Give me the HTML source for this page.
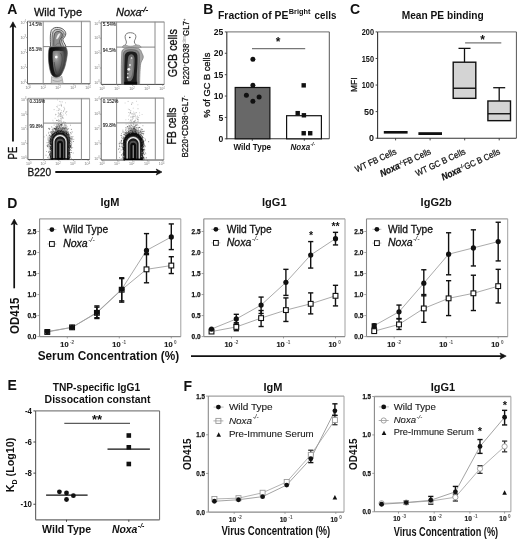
<!DOCTYPE html>
<html><head><meta charset="utf-8"><style>
html,body{margin:0;padding:0;background:#fff;}
svg{display:block;font-family:"Liberation Sans", sans-serif;filter:blur(0.3px);}
</style></head><body>
<svg width="520" height="540" viewBox="0 0 520 540">
<rect width="520" height="540" fill="#fff"/>
<text x="7.20" y="13.70" font-size="14" font-weight="bold" font-style="normal" text-anchor="start" fill="#111" >A</text>
<text x="203.30" y="14.20" font-size="14" font-weight="bold" font-style="normal" text-anchor="start" fill="#111" >B</text>
<text x="349.90" y="14.00" font-size="14" font-weight="bold" font-style="normal" text-anchor="start" fill="#111" >C</text>
<text x="7.30" y="207.50" font-size="14" font-weight="bold" font-style="normal" text-anchor="start" fill="#111" >D</text>
<text x="7.40" y="390.40" font-size="14" font-weight="bold" font-style="normal" text-anchor="start" fill="#111" >E</text>
<text x="183.40" y="390.50" font-size="14" font-weight="bold" font-style="normal" text-anchor="start" fill="#111" >F</text>
<text x="34.00" y="16.30" font-size="11" font-weight="normal" font-style="normal" text-anchor="start" fill="#111" stroke="#111" stroke-width="0.3" textLength="48" lengthAdjust="spacingAndGlyphs" >Wild Type</text>
<text x="116.00" y="16.40" font-size="11" font-weight="normal" font-style="italic" text-anchor="start" fill="#111" stroke="#111" stroke-width="0.3" >Noxa</text>
<text x="140.90" y="12.20" font-size="7.6" font-weight="normal" font-style="italic" text-anchor="start" fill="#111" stroke="#111" stroke-width="0.4" >-/-</text>
<line x1="13.00" y1="141.50" x2="12.95" y2="26.10" stroke="#111" stroke-width="1.8" />
<path d="M12.95,21.80 L15.95,27.40 L12.95,26.10 L9.95,27.40 Z" fill="#111" stroke="#111" stroke-width="0.6" stroke-linejoin="round"/>
<text x="17.20" y="159.40" font-size="12" font-weight="normal" font-style="normal" text-anchor="start" fill="#111" stroke="#111" stroke-width="0.3" textLength="12.7" lengthAdjust="spacingAndGlyphs" transform="rotate(-90 17.20 159.40)" >PE</text>
<text x="27.50" y="176.40" font-size="11" font-weight="normal" font-style="normal" text-anchor="start" fill="#111" stroke="#111" stroke-width="0.3" textLength="23.6" lengthAdjust="spacingAndGlyphs" >B220</text>
<line x1="55.30" y1="172.00" x2="157.60" y2="172.00" stroke="#111" stroke-width="1.9" />
<path d="M162.00,172.00 L156.20,175.00 L157.60,172.00 L156.20,169.00 Z" fill="#111" stroke="#111" stroke-width="0.6" stroke-linejoin="round"/>
<text x="176.80" y="77.20" font-size="13" font-weight="normal" font-style="normal" text-anchor="start" fill="#111" stroke="#111" stroke-width="0.3" textLength="48" lengthAdjust="spacingAndGlyphs" transform="rotate(-90 176.80 77.20)" >GCB cells</text>
<text x="176.00" y="144.40" font-size="13" font-weight="normal" font-style="normal" text-anchor="start" fill="#111" stroke="#111" stroke-width="0.3" textLength="36.8" lengthAdjust="spacingAndGlyphs" transform="rotate(-90 176.00 144.40)" >FB cells</text>
<text x="189.20" y="84.80" font-size="8.9" fill="#111" stroke="#111" stroke-width="0.25" transform="rotate(-90 189.20 84.80)" textLength="66.5" lengthAdjust="spacingAndGlyphs"><tspan dy="0">B220</tspan><tspan font-size="5.5" dy="-2.8" fill="#111" stroke="none">+</tspan><tspan dy="2.8">CD38</tspan><tspan font-size="5.5" dy="-2.8" fill="#999" stroke="none">dim</tspan><tspan dy="2.8">GL7</tspan><tspan font-size="5.5" dy="-2.8" fill="#111" stroke="none">+</tspan></text>
<text x="188.40" y="157.60" font-size="8.4" fill="#111" stroke="#111" stroke-width="0.25" transform="rotate(-90 188.40 157.60)" textLength="62" lengthAdjust="spacingAndGlyphs"><tspan dy="0">B220</tspan><tspan font-size="5.5" dy="-2.8" fill="#111" stroke="none">+</tspan><tspan dy="2.8">CD38</tspan><tspan font-size="5.5" dy="-2.8" fill="#111" stroke="none">+</tspan><tspan dy="2.8">GL7</tspan><tspan font-size="5.5" dy="-2.8" fill="#111" stroke="none">-</tspan></text>
<rect x="27.50" y="20.60" width="62.70" height="1.60" fill="#a8a8a8" stroke="none" stroke-width="1.0" />
<line x1="27.50" y1="21.20" x2="27.50" y2="83.80" stroke="#555" stroke-width="0.9" />
<line x1="90.20" y1="21.20" x2="90.20" y2="83.80" stroke="#888" stroke-width="0.8" />
<line x1="27.50" y1="83.80" x2="90.20" y2="83.80" stroke="#444" stroke-width="1.0" />
<line x1="43.20" y1="21.20" x2="43.20" y2="83.80" stroke="#8a8a8a" stroke-width="1.0" />
<line x1="81.40" y1="21.20" x2="81.40" y2="83.80" stroke="#8a8a8a" stroke-width="1.0" />
<line x1="43.20" y1="46.60" x2="81.40" y2="46.60" stroke="#777" stroke-width="0.9" />
<text x="29.10" y="25.80" font-size="4.6" font-weight="normal" font-style="normal" text-anchor="start" fill="#222" stroke="#222" stroke-width="0.1" >14.5%</text>
<text x="29.10" y="51.00" font-size="4.6" font-weight="normal" font-style="normal" text-anchor="start" fill="#222" stroke="#222" stroke-width="0.1" >85.3%</text>
<line x1="26.00" y1="82.30" x2="27.50" y2="82.30" stroke="#777" stroke-width="0.6" />
<text x="24.50" y="83.50" font-size="3.6" font-weight="normal" font-style="normal" text-anchor="end" fill="#777" >10</text>
<text x="24.50" y="81.70" font-size="2.6" font-weight="normal" font-style="normal" text-anchor="start" fill="#777" >0</text>
<line x1="26.00" y1="67.40" x2="27.50" y2="67.40" stroke="#777" stroke-width="0.6" />
<text x="24.50" y="68.60" font-size="3.6" font-weight="normal" font-style="normal" text-anchor="end" fill="#777" >10</text>
<text x="24.50" y="66.80" font-size="2.6" font-weight="normal" font-style="normal" text-anchor="start" fill="#777" >1</text>
<line x1="26.00" y1="52.50" x2="27.50" y2="52.50" stroke="#777" stroke-width="0.6" />
<text x="24.50" y="53.70" font-size="3.6" font-weight="normal" font-style="normal" text-anchor="end" fill="#777" >10</text>
<text x="24.50" y="51.90" font-size="2.6" font-weight="normal" font-style="normal" text-anchor="start" fill="#777" >2</text>
<line x1="26.00" y1="37.60" x2="27.50" y2="37.60" stroke="#777" stroke-width="0.6" />
<text x="24.50" y="38.80" font-size="3.6" font-weight="normal" font-style="normal" text-anchor="end" fill="#777" >10</text>
<text x="24.50" y="37.00" font-size="2.6" font-weight="normal" font-style="normal" text-anchor="start" fill="#777" >3</text>
<line x1="26.00" y1="22.70" x2="27.50" y2="22.70" stroke="#777" stroke-width="0.6" />
<text x="24.50" y="23.90" font-size="3.6" font-weight="normal" font-style="normal" text-anchor="end" fill="#777" >10</text>
<text x="24.50" y="22.10" font-size="2.6" font-weight="normal" font-style="normal" text-anchor="start" fill="#777" >4</text>
<line x1="29.00" y1="83.80" x2="29.00" y2="85.30" stroke="#777" stroke-width="0.6" />
<text x="27.50" y="89.20" font-size="3.6" font-weight="normal" font-style="normal" text-anchor="middle" fill="#777" >10</text>
<text x="29.60" y="88.00" font-size="2.6" font-weight="normal" font-style="normal" text-anchor="start" fill="#777" >0</text>
<line x1="43.92" y1="83.80" x2="43.92" y2="85.30" stroke="#777" stroke-width="0.6" />
<text x="42.42" y="89.20" font-size="3.6" font-weight="normal" font-style="normal" text-anchor="middle" fill="#777" >10</text>
<text x="44.52" y="88.00" font-size="2.6" font-weight="normal" font-style="normal" text-anchor="start" fill="#777" >1</text>
<line x1="58.85" y1="83.80" x2="58.85" y2="85.30" stroke="#777" stroke-width="0.6" />
<text x="57.35" y="89.20" font-size="3.6" font-weight="normal" font-style="normal" text-anchor="middle" fill="#777" >10</text>
<text x="59.45" y="88.00" font-size="2.6" font-weight="normal" font-style="normal" text-anchor="start" fill="#777" >2</text>
<line x1="73.78" y1="83.80" x2="73.78" y2="85.30" stroke="#777" stroke-width="0.6" />
<text x="72.28" y="89.20" font-size="3.6" font-weight="normal" font-style="normal" text-anchor="middle" fill="#777" >10</text>
<text x="74.38" y="88.00" font-size="2.6" font-weight="normal" font-style="normal" text-anchor="start" fill="#777" >3</text>
<line x1="88.70" y1="83.80" x2="88.70" y2="85.30" stroke="#777" stroke-width="0.6" />
<text x="87.20" y="89.20" font-size="3.6" font-weight="normal" font-style="normal" text-anchor="middle" fill="#777" >10</text>
<text x="89.30" y="88.00" font-size="2.6" font-weight="normal" font-style="normal" text-anchor="start" fill="#777" >4</text>
<rect x="101.20" y="21.20" width="63.00" height="1.60" fill="#a8a8a8" stroke="none" stroke-width="1.0" />
<line x1="101.20" y1="21.80" x2="101.20" y2="84.40" stroke="#555" stroke-width="0.9" />
<line x1="164.20" y1="21.80" x2="164.20" y2="84.40" stroke="#888" stroke-width="0.8" />
<line x1="101.20" y1="84.40" x2="164.20" y2="84.40" stroke="#444" stroke-width="1.0" />
<line x1="116.60" y1="21.80" x2="116.60" y2="84.40" stroke="#8a8a8a" stroke-width="1.0" />
<line x1="155.00" y1="21.80" x2="155.00" y2="84.40" stroke="#8a8a8a" stroke-width="1.0" />
<line x1="116.60" y1="47.10" x2="155.00" y2="47.10" stroke="#777" stroke-width="0.9" />
<text x="102.80" y="26.40" font-size="4.6" font-weight="normal" font-style="normal" text-anchor="start" fill="#222" stroke="#222" stroke-width="0.1" >5.54%</text>
<text x="102.80" y="51.50" font-size="4.6" font-weight="normal" font-style="normal" text-anchor="start" fill="#222" stroke="#222" stroke-width="0.1" >94.5%</text>
<line x1="99.70" y1="82.90" x2="101.20" y2="82.90" stroke="#777" stroke-width="0.6" />
<text x="98.20" y="84.10" font-size="3.6" font-weight="normal" font-style="normal" text-anchor="end" fill="#777" >10</text>
<text x="98.20" y="82.30" font-size="2.6" font-weight="normal" font-style="normal" text-anchor="start" fill="#777" >0</text>
<line x1="99.70" y1="68.00" x2="101.20" y2="68.00" stroke="#777" stroke-width="0.6" />
<text x="98.20" y="69.20" font-size="3.6" font-weight="normal" font-style="normal" text-anchor="end" fill="#777" >10</text>
<text x="98.20" y="67.40" font-size="2.6" font-weight="normal" font-style="normal" text-anchor="start" fill="#777" >1</text>
<line x1="99.70" y1="53.10" x2="101.20" y2="53.10" stroke="#777" stroke-width="0.6" />
<text x="98.20" y="54.30" font-size="3.6" font-weight="normal" font-style="normal" text-anchor="end" fill="#777" >10</text>
<text x="98.20" y="52.50" font-size="2.6" font-weight="normal" font-style="normal" text-anchor="start" fill="#777" >2</text>
<line x1="99.70" y1="38.20" x2="101.20" y2="38.20" stroke="#777" stroke-width="0.6" />
<text x="98.20" y="39.40" font-size="3.6" font-weight="normal" font-style="normal" text-anchor="end" fill="#777" >10</text>
<text x="98.20" y="37.60" font-size="2.6" font-weight="normal" font-style="normal" text-anchor="start" fill="#777" >3</text>
<line x1="99.70" y1="23.30" x2="101.20" y2="23.30" stroke="#777" stroke-width="0.6" />
<text x="98.20" y="24.50" font-size="3.6" font-weight="normal" font-style="normal" text-anchor="end" fill="#777" >10</text>
<text x="98.20" y="22.70" font-size="2.6" font-weight="normal" font-style="normal" text-anchor="start" fill="#777" >4</text>
<line x1="102.70" y1="84.40" x2="102.70" y2="85.90" stroke="#777" stroke-width="0.6" />
<text x="101.20" y="89.80" font-size="3.6" font-weight="normal" font-style="normal" text-anchor="middle" fill="#777" >10</text>
<text x="103.30" y="88.60" font-size="2.6" font-weight="normal" font-style="normal" text-anchor="start" fill="#777" >0</text>
<line x1="117.70" y1="84.40" x2="117.70" y2="85.90" stroke="#777" stroke-width="0.6" />
<text x="116.20" y="89.80" font-size="3.6" font-weight="normal" font-style="normal" text-anchor="middle" fill="#777" >10</text>
<text x="118.30" y="88.60" font-size="2.6" font-weight="normal" font-style="normal" text-anchor="start" fill="#777" >1</text>
<line x1="132.70" y1="84.40" x2="132.70" y2="85.90" stroke="#777" stroke-width="0.6" />
<text x="131.20" y="89.80" font-size="3.6" font-weight="normal" font-style="normal" text-anchor="middle" fill="#777" >10</text>
<text x="133.30" y="88.60" font-size="2.6" font-weight="normal" font-style="normal" text-anchor="start" fill="#777" >2</text>
<line x1="147.70" y1="84.40" x2="147.70" y2="85.90" stroke="#777" stroke-width="0.6" />
<text x="146.20" y="89.80" font-size="3.6" font-weight="normal" font-style="normal" text-anchor="middle" fill="#777" >10</text>
<text x="148.30" y="88.60" font-size="2.6" font-weight="normal" font-style="normal" text-anchor="start" fill="#777" >3</text>
<line x1="162.70" y1="84.40" x2="162.70" y2="85.90" stroke="#777" stroke-width="0.6" />
<text x="161.20" y="89.80" font-size="3.6" font-weight="normal" font-style="normal" text-anchor="middle" fill="#777" >10</text>
<text x="163.30" y="88.60" font-size="2.6" font-weight="normal" font-style="normal" text-anchor="start" fill="#777" >4</text>
<rect x="27.90" y="97.80" width="61.70" height="1.60" fill="#a8a8a8" stroke="none" stroke-width="1.0" />
<line x1="27.90" y1="98.40" x2="27.90" y2="159.60" stroke="#555" stroke-width="0.9" />
<line x1="89.60" y1="98.40" x2="89.60" y2="159.60" stroke="#888" stroke-width="0.8" />
<line x1="27.90" y1="159.60" x2="89.60" y2="159.60" stroke="#444" stroke-width="1.0" />
<line x1="43.40" y1="98.40" x2="43.40" y2="159.60" stroke="#8a8a8a" stroke-width="1.0" />
<line x1="81.40" y1="98.40" x2="81.40" y2="159.60" stroke="#8a8a8a" stroke-width="1.0" />
<line x1="43.40" y1="123.10" x2="81.40" y2="123.10" stroke="#777" stroke-width="0.9" />
<text x="29.50" y="103.00" font-size="4.6" font-weight="normal" font-style="normal" text-anchor="start" fill="#222" stroke="#222" stroke-width="0.1" >0.316%</text>
<text x="29.50" y="127.50" font-size="4.6" font-weight="normal" font-style="normal" text-anchor="start" fill="#222" stroke="#222" stroke-width="0.1" >99.8%</text>
<line x1="26.40" y1="158.10" x2="27.90" y2="158.10" stroke="#777" stroke-width="0.6" />
<text x="24.90" y="159.30" font-size="3.6" font-weight="normal" font-style="normal" text-anchor="end" fill="#777" >10</text>
<text x="24.90" y="157.50" font-size="2.6" font-weight="normal" font-style="normal" text-anchor="start" fill="#777" >0</text>
<line x1="26.40" y1="143.55" x2="27.90" y2="143.55" stroke="#777" stroke-width="0.6" />
<text x="24.90" y="144.75" font-size="3.6" font-weight="normal" font-style="normal" text-anchor="end" fill="#777" >10</text>
<text x="24.90" y="142.95" font-size="2.6" font-weight="normal" font-style="normal" text-anchor="start" fill="#777" >1</text>
<line x1="26.40" y1="129.00" x2="27.90" y2="129.00" stroke="#777" stroke-width="0.6" />
<text x="24.90" y="130.20" font-size="3.6" font-weight="normal" font-style="normal" text-anchor="end" fill="#777" >10</text>
<text x="24.90" y="128.40" font-size="2.6" font-weight="normal" font-style="normal" text-anchor="start" fill="#777" >2</text>
<line x1="26.40" y1="114.45" x2="27.90" y2="114.45" stroke="#777" stroke-width="0.6" />
<text x="24.90" y="115.65" font-size="3.6" font-weight="normal" font-style="normal" text-anchor="end" fill="#777" >10</text>
<text x="24.90" y="113.85" font-size="2.6" font-weight="normal" font-style="normal" text-anchor="start" fill="#777" >3</text>
<line x1="26.40" y1="99.90" x2="27.90" y2="99.90" stroke="#777" stroke-width="0.6" />
<text x="24.90" y="101.10" font-size="3.6" font-weight="normal" font-style="normal" text-anchor="end" fill="#777" >10</text>
<text x="24.90" y="99.30" font-size="2.6" font-weight="normal" font-style="normal" text-anchor="start" fill="#777" >4</text>
<line x1="29.40" y1="159.60" x2="29.40" y2="161.10" stroke="#777" stroke-width="0.6" />
<text x="27.90" y="165.00" font-size="3.6" font-weight="normal" font-style="normal" text-anchor="middle" fill="#777" >10</text>
<text x="30.00" y="163.80" font-size="2.6" font-weight="normal" font-style="normal" text-anchor="start" fill="#777" >0</text>
<line x1="44.07" y1="159.60" x2="44.07" y2="161.10" stroke="#777" stroke-width="0.6" />
<text x="42.57" y="165.00" font-size="3.6" font-weight="normal" font-style="normal" text-anchor="middle" fill="#777" >10</text>
<text x="44.67" y="163.80" font-size="2.6" font-weight="normal" font-style="normal" text-anchor="start" fill="#777" >1</text>
<line x1="58.75" y1="159.60" x2="58.75" y2="161.10" stroke="#777" stroke-width="0.6" />
<text x="57.25" y="165.00" font-size="3.6" font-weight="normal" font-style="normal" text-anchor="middle" fill="#777" >10</text>
<text x="59.35" y="163.80" font-size="2.6" font-weight="normal" font-style="normal" text-anchor="start" fill="#777" >2</text>
<line x1="73.42" y1="159.60" x2="73.42" y2="161.10" stroke="#777" stroke-width="0.6" />
<text x="71.92" y="165.00" font-size="3.6" font-weight="normal" font-style="normal" text-anchor="middle" fill="#777" >10</text>
<text x="74.02" y="163.80" font-size="2.6" font-weight="normal" font-style="normal" text-anchor="start" fill="#777" >3</text>
<line x1="88.10" y1="159.60" x2="88.10" y2="161.10" stroke="#777" stroke-width="0.6" />
<text x="86.60" y="165.00" font-size="3.6" font-weight="normal" font-style="normal" text-anchor="middle" fill="#777" >10</text>
<text x="88.70" y="163.80" font-size="2.6" font-weight="normal" font-style="normal" text-anchor="start" fill="#777" >4</text>
<rect x="101.20" y="97.30" width="62.60" height="1.60" fill="#a8a8a8" stroke="none" stroke-width="1.0" />
<line x1="101.20" y1="97.90" x2="101.20" y2="160.00" stroke="#555" stroke-width="0.9" />
<line x1="163.80" y1="97.90" x2="163.80" y2="160.00" stroke="#888" stroke-width="0.8" />
<line x1="101.20" y1="160.00" x2="163.80" y2="160.00" stroke="#444" stroke-width="1.0" />
<line x1="116.60" y1="97.90" x2="116.60" y2="160.00" stroke="#8a8a8a" stroke-width="1.0" />
<line x1="155.30" y1="97.90" x2="155.30" y2="160.00" stroke="#8a8a8a" stroke-width="1.0" />
<line x1="116.60" y1="122.90" x2="155.30" y2="122.90" stroke="#777" stroke-width="0.9" />
<text x="102.80" y="102.50" font-size="4.6" font-weight="normal" font-style="normal" text-anchor="start" fill="#222" stroke="#222" stroke-width="0.1" >0.152%</text>
<text x="102.80" y="127.30" font-size="4.6" font-weight="normal" font-style="normal" text-anchor="start" fill="#222" stroke="#222" stroke-width="0.1" >99.8%</text>
<line x1="99.70" y1="158.50" x2="101.20" y2="158.50" stroke="#777" stroke-width="0.6" />
<text x="98.20" y="159.70" font-size="3.6" font-weight="normal" font-style="normal" text-anchor="end" fill="#777" >10</text>
<text x="98.20" y="157.90" font-size="2.6" font-weight="normal" font-style="normal" text-anchor="start" fill="#777" >0</text>
<line x1="99.70" y1="143.72" x2="101.20" y2="143.72" stroke="#777" stroke-width="0.6" />
<text x="98.20" y="144.92" font-size="3.6" font-weight="normal" font-style="normal" text-anchor="end" fill="#777" >10</text>
<text x="98.20" y="143.12" font-size="2.6" font-weight="normal" font-style="normal" text-anchor="start" fill="#777" >1</text>
<line x1="99.70" y1="128.95" x2="101.20" y2="128.95" stroke="#777" stroke-width="0.6" />
<text x="98.20" y="130.15" font-size="3.6" font-weight="normal" font-style="normal" text-anchor="end" fill="#777" >10</text>
<text x="98.20" y="128.35" font-size="2.6" font-weight="normal" font-style="normal" text-anchor="start" fill="#777" >2</text>
<line x1="99.70" y1="114.18" x2="101.20" y2="114.18" stroke="#777" stroke-width="0.6" />
<text x="98.20" y="115.38" font-size="3.6" font-weight="normal" font-style="normal" text-anchor="end" fill="#777" >10</text>
<text x="98.20" y="113.58" font-size="2.6" font-weight="normal" font-style="normal" text-anchor="start" fill="#777" >3</text>
<line x1="99.70" y1="99.40" x2="101.20" y2="99.40" stroke="#777" stroke-width="0.6" />
<text x="98.20" y="100.60" font-size="3.6" font-weight="normal" font-style="normal" text-anchor="end" fill="#777" >10</text>
<text x="98.20" y="98.80" font-size="2.6" font-weight="normal" font-style="normal" text-anchor="start" fill="#777" >4</text>
<line x1="102.70" y1="160.00" x2="102.70" y2="161.50" stroke="#777" stroke-width="0.6" />
<text x="101.20" y="165.40" font-size="3.6" font-weight="normal" font-style="normal" text-anchor="middle" fill="#777" >10</text>
<text x="103.30" y="164.20" font-size="2.6" font-weight="normal" font-style="normal" text-anchor="start" fill="#777" >0</text>
<line x1="117.60" y1="160.00" x2="117.60" y2="161.50" stroke="#777" stroke-width="0.6" />
<text x="116.10" y="165.40" font-size="3.6" font-weight="normal" font-style="normal" text-anchor="middle" fill="#777" >10</text>
<text x="118.20" y="164.20" font-size="2.6" font-weight="normal" font-style="normal" text-anchor="start" fill="#777" >1</text>
<line x1="132.50" y1="160.00" x2="132.50" y2="161.50" stroke="#777" stroke-width="0.6" />
<text x="131.00" y="165.40" font-size="3.6" font-weight="normal" font-style="normal" text-anchor="middle" fill="#777" >10</text>
<text x="133.10" y="164.20" font-size="2.6" font-weight="normal" font-style="normal" text-anchor="start" fill="#777" >2</text>
<line x1="147.40" y1="160.00" x2="147.40" y2="161.50" stroke="#777" stroke-width="0.6" />
<text x="145.90" y="165.40" font-size="3.6" font-weight="normal" font-style="normal" text-anchor="middle" fill="#777" >10</text>
<text x="148.00" y="164.20" font-size="2.6" font-weight="normal" font-style="normal" text-anchor="start" fill="#777" >3</text>
<line x1="162.30" y1="160.00" x2="162.30" y2="161.50" stroke="#777" stroke-width="0.6" />
<text x="160.80" y="165.40" font-size="3.6" font-weight="normal" font-style="normal" text-anchor="middle" fill="#777" >10</text>
<text x="162.90" y="164.20" font-size="2.6" font-weight="normal" font-style="normal" text-anchor="start" fill="#777" >4</text>
<defs>
<radialGradient id="gA" cx="0.3" cy="0.25" r="0.8">
 <stop offset="0" stop-color="#b8b8b8"/><stop offset="0.25" stop-color="#8a8a8a"/><stop offset="0.6" stop-color="#666"/><stop offset="0.85" stop-color="#444"/><stop offset="1" stop-color="#2a2a2a"/>
</radialGradient>
<radialGradient id="gB" cx="0.5" cy="0.5" r="0.55">
 <stop offset="0" stop-color="#333"/><stop offset="0.6" stop-color="#111"/><stop offset="0.85" stop-color="#555"/><stop offset="1" stop-color="#999"/>
</radialGradient>
<radialGradient id="gU" cx="0.5" cy="0.75" r="0.65">
 <stop offset="0" stop-color="#000"/><stop offset="1" stop-color="#222"/>
</radialGradient>
<linearGradient id="gL" x1="0" y1="0" x2="1" y2="0.25">
 <stop offset="0" stop-color="#080808"/><stop offset="0.5" stop-color="#181818"/><stop offset="1" stop-color="#505050"/>
</linearGradient>
</defs>
<path d="M50.6,46.5 C50.2,40 50.0,33.5 51.4,30.2 C52.8,27.8 55.6,27.2 58.4,27.5 C62,27.9 65.7,30.3 65.8,33.8 C65.9,36.6 63.3,37.6 62.9,39.6 C62.6,41.6 65.1,43.2 65.8,46.5" fill="#e0e0e0" stroke="#333" stroke-width="0.8" />
<path d="M52.2,46.5 C51.9,41 51.8,35 53,31.8 C54.2,29.6 56.5,29.2 58.6,29.5 C61.5,29.9 64.2,31.6 64.2,34.2 C64.2,36.4 62,37.4 61.5,39.6 C61.1,41.8 62.8,43.8 63.6,46.5" fill="#bdbdbd" stroke="#444" stroke-width="0.7" />
<path d="M53.8,46.5 C53.6,42 53.6,36.5 54.6,33.6 C55.6,31.6 57.4,31.3 59,31.6 C61,32 62.6,33.2 62.4,35.2 C62.2,37.5 60.2,38.5 59.8,40.6 C59.5,42.6 60.8,44.6 61.4,46.5" fill="#8f8f8f" stroke="#333" stroke-width="0.7" />
<ellipse cx="58.2" cy="36.2" rx="1.4" ry="3.8" fill="#eee" stroke="#777" stroke-width="0.5" transform="rotate(28 58.2 36.2)"/>
<path d="M55.4,45.8 C56.5,43.5 58.5,42.5 60.5,43.5" fill="none" stroke="#666" stroke-width="0.6" />
<path d="M49.6,47.2 C53,46.6 62,46.5 65.9,47.0 C67.2,49.5 67.6,52 67.3,54.5 C67,58 66,62 65.2,65.6 C64.2,69 63,71.5 61.8,73.8 C60.8,76 59,77.4 56.5,77.4 C54.2,77.4 52.6,76.2 51.6,74.5 C50.6,72.8 49.8,70 49.2,66 C48.6,62 48.3,58.7 48.4,55 C48.5,51.5 48.9,48.6 49.6,47.2 Z" fill="url(#gL)" stroke="#555" stroke-width="0.6" />
<path d="M53,51.2 C56,50.6 61,50.8 64.2,51.4 C65,53 65.2,55 65,57.5 C64.6,61 63.6,64.5 62.7,67.5 C61.8,70.5 60.6,73 59.2,74.6 C58,75.6 56.6,75.6 55.6,74.6 C54.6,73.2 53.9,70.5 53.4,67 C52.9,63 52.6,59 52.6,55.5 C52.6,53.5 52.7,52 53,51.2 Z" fill="url(#gA)" stroke="none" stroke-width="1.0" />
<path d="M60.5,53 C62.5,55 62.6,60 61.6,64 C60.8,67.5 59.8,70.5 58.6,72.5" fill="none" stroke="#444" stroke-width="0.7" />
<path d="M54.2,62 C54.6,66.5 55.4,70.5 56.6,73.2" fill="none" stroke="#3a3a3a" stroke-width="0.6" />
<path d="M51.6,76.5 C54,78.6 59.5,78.6 61.8,76.2 L63.2,83.6 L51.2,83.6 Z" fill="#cfcfcf" stroke="#777" stroke-width="0.5" />
<path d="M52.5,80.2 C55.5,81.8 59.5,81.8 62,80" fill="none" stroke="#777" stroke-width="0.5" />
<circle cx="56.30" cy="57.10" r="1.35" fill="#fff" stroke="none" stroke-width="1.0"/>
<path d="M124.2,47.2 C124.5,45 126.5,44.5 126.4,42 C126.3,40.5 125,39 125.1,36.5 C125.2,33.5 128,32.6 130.5,32.7 C133.5,32.8 135.9,34 135.9,36.5 C135.9,39 134.3,40 134.3,42 C134.3,44.5 137.5,45 138.2,47.2" fill="#fff" stroke="#444" stroke-width="0.7" />
<circle cx="129.80" cy="37.50" r="0.75" fill="#333" stroke="none" stroke-width="1.0"/>
<path d="M122.3,47.3 C122.8,45 125,44.6 127,45.6 C129,46.4 132.5,46.4 134.5,45.4 C137,44.4 140.5,45 141.2,47.3 Z" fill="#b0b0b0" stroke="#777" stroke-width="0.5" />
<path d="M121.5,84.4 C121.2,76 121.2,62 121.8,52 C122.2,48.5 126,47.6 131,47.6 C136,47.6 140.2,48 141.3,51.5 C141.8,53.5 143.3,55 143.3,57 C143.2,59.5 141,61 140.6,64 C140.2,68 139.8,74 139.6,84.4 Z" fill="#a8a8a8" stroke="#666" stroke-width="0.6" />
<path d="M122.8,84.4 C122.6,76 122.8,63 123.3,54 C123.6,50.6 127,49.6 131,49.6 C135,49.6 138.6,50.2 139.2,53.5 C139.7,57 139.4,64 138.8,72 C138.6,76 138.5,80 138.6,84.4 Z" fill="#7e7e7e" stroke="#555" stroke-width="0.5" />
<path d="M124.4,84.4 C124.2,76 124.3,64 124.7,56 C125,52.6 127.6,51.4 131,51.4 C134.4,51.4 137,52.2 137.4,55.5 C137.7,60 137.4,67 136.8,74 C136.6,77.5 136.7,81 137,84.4 Z" fill="#1e1e1e" stroke="none" stroke-width="1.0" />
<path d="M127.6,80.5 C127.0,74 127.2,64 128.0,58 C128.5,55 130.2,54.0 131.6,54.2 C133.4,54.5 134.6,56.2 134.6,59 C134.6,64 134.2,70 133.6,75 C133.3,77.6 132.2,79.8 130.6,81 C129.4,81.6 128.2,81.4 127.6,80.5 Z" fill="#6a6a6a" stroke="none" stroke-width="1.0" />
<path d="M129,78 C128.6,72 129,64 129.8,59 C130.4,57 132,56.6 132.8,58.4 C133.2,62 132.8,68 132.2,73 C131.8,76 130.5,78.5 129,78 Z" fill="#8a8a8a" stroke="none" stroke-width="1.0" />
<circle cx="131.60" cy="58.00" r="0.80" fill="#f4f4f4" stroke="none" stroke-width="1.0"/>
<circle cx="130.00" cy="65.00" r="0.90" fill="#f4f4f4" stroke="none" stroke-width="1.0"/>
<circle cx="128.80" cy="69.30" r="1.40" fill="#f4f4f4" stroke="none" stroke-width="1.0"/>
<circle cx="127.90" cy="73.80" r="0.70" fill="#f4f4f4" stroke="none" stroke-width="1.0"/>
<circle cx="127.70" cy="77.40" r="0.90" fill="#f4f4f4" stroke="none" stroke-width="1.0"/>
<rect x="124.20" y="81.80" width="13.00" height="2.60" fill="#0a0a0a" stroke="none" stroke-width="1.0" />
<path d="M63.9 110.4h0M59.7 120.8h0M59.2 109.0h0M58.7 113.1h0M62.2 128.5h0M56.7 124.5h0M61.8 116.2h0M60.5 113.4h0M60.5 114.0h0M61.2 105.3h0M63.5 111.5h0M61.0 120.9h0M60.6 124.5h0M61.9 122.3h0M60.7 128.0h0M60.9 118.8h0M57.4 107.0h0M61.8 125.6h0M58.7 120.9h0M54.1 109.6h0M61.2 129.4h0M66.8 111.5h0M58.8 119.9h0M61.0 114.9h0M62.1 117.1h0M61.4 125.9h0M62.6 128.3h0M62.2 101.9h0M64.0 107.3h0M60.8 112.9h0M59.9 126.7h0M59.1 116.2h0M62.9 128.2h0M64.7 108.9h0M61.4 106.1h0M56.7 126.1h0M59.7 124.2h0M65.0 125.5h0" stroke="#888" stroke-width="0.64" stroke-linecap="round" fill="none"/>
<path d="M59.9 114.3h0M57.0 110.6h0M65.7 126.0h0M60.1 129.8h0M60.7 128.7h0M53.2 122.2h0M60.7 116.4h0M60.6 115.9h0M60.3 120.6h0M57.6 127.8h0M62.1 115.5h0M61.0 125.2h0M55.1 118.3h0M62.1 117.0h0M58.5 126.3h0M58.7 110.6h0M57.1 128.9h0M60.9 129.9h0M64.1 128.7h0M57.1 123.4h0M52.9 120.3h0M59.7 105.3h0M57.1 125.2h0M62.7 117.4h0M56.6 130.2h0M57.9 116.4h0M57.5 120.6h0M60.3 122.0h0M59.5 125.5h0M65.1 128.6h0M63.3 118.3h0M61.7 127.2h0M61.2 121.0h0M57.5 127.2h0M63.0 128.7h0M58.0 130.1h0M60.3 128.1h0M62.9 113.0h0M58.8 110.5h0M61.1 114.6h0M58.3 119.4h0M58.2 112.9h0M57.4 99.9h0M58.1 125.3h0M63.8 126.4h0M65.5 102.8h0M57.1 129.9h0M61.3 110.5h0M60.5 124.5h0M59.0 114.9h0M64.5 109.0h0M60.6 118.2h0M56.6 106.6h0M51.4 126.7h0M59.9 124.9h0M55.4 114.9h0M62.6 117.4h0M61.4 105.2h0M56.1 114.5h0M58.1 126.4h0M59.4 101.4h0M63.0 123.7h0M61.3 105.1h0M59.4 125.3h0M60.7 128.1h0M63.2 129.6h0M61.2 121.7h0M65.3 112.2h0M66.5 125.0h0M60.0 114.8h0M59.6 127.4h0M62.5 129.4h0M57.6 126.9h0M61.6 124.4h0M63.8 128.5h0M58.8 121.5h0M59.3 120.8h0M55.9 124.2h0M62.8 125.6h0M62.0 123.3h0M56.3 125.6h0M60.1 127.9h0M63.5 122.9h0M63.8 121.7h0M66.5 114.8h0M61.2 119.6h0M53.3 127.9h0M59.9 109.3h0M58.4 127.3h0M58.9 121.4h0M65.4 124.9h0M54.4 123.7h0M57.9 122.9h0M64.3 127.6h0M59.1 128.5h0M61.1 125.2h0M61.5 118.3h0M58.4 124.1h0M56.6 127.7h0M55.8 122.6h0M60.3 114.4h0M60.5 116.4h0M65.6 113.4h0M59.5 127.2h0M53.9 128.6h0M60.7 101.8h0M58.0 105.2h0M58.6 108.9h0M58.4 126.9h0M64.3 123.9h0M58.0 116.9h0M61.6 112.3h0M66.5 112.2h0M61.0 104.2h0M58.4 127.3h0M63.0 117.8h0M61.9 122.8h0M60.0 129.4h0M59.5 129.6h0M55.6 114.3h0M59.2 113.6h0M58.1 125.2h0M60.5 112.6h0M63.7 115.0h0M62.4 118.2h0M58.7 115.4h0M59.9 130.6h0" stroke="#aaa" stroke-width="0.64" stroke-linecap="round" fill="none"/>
<path d="M57.0 132.0h0M54.7 128.4h0M58.3 128.3h0M57.8 129.6h0M60.1 132.8h0M59.2 127.1h0M65.3 127.3h0M48.9 132.3h0M53.1 131.1h0M54.8 129.1h0M63.3 132.9h0M62.6 127.6h0M56.5 132.4h0M63.8 133.1h0M56.6 131.1h0M63.3 128.5h0M59.2 123.4h0M60.0 127.8h0M59.9 126.6h0M56.9 128.0h0M55.6 129.6h0M54.1 125.1h0M61.5 124.5h0M60.8 124.8h0M57.3 130.6h0M59.5 126.0h0M63.4 129.1h0M64.2 126.1h0M55.8 132.7h0M64.4 131.7h0M59.9 128.4h0M56.6 127.9h0M64.5 132.5h0M65.5 130.9h0M55.3 129.1h0M58.0 131.3h0M62.1 123.9h0M59.9 131.4h0M62.3 128.3h0M57.0 129.1h0M59.9 130.4h0M56.6 127.2h0M61.2 129.9h0M57.9 131.1h0M57.9 132.1h0M61.9 124.3h0M58.8 130.3h0M65.8 131.6h0M60.6 132.2h0M64.3 129.4h0M58.4 128.7h0M60.5 125.2h0M62.0 127.2h0M65.2 122.5h0M52.2 129.7h0M59.3 127.0h0M59.7 127.6h0M61.4 131.3h0M59.3 128.9h0M60.1 129.8h0M58.8 126.0h0M59.4 131.1h0M56.5 130.0h0M62.0 131.5h0M64.9 131.1h0M62.1 131.1h0M65.8 131.6h0M63.9 122.3h0M57.4 130.5h0M61.0 131.2h0M59.5 131.3h0M56.5 130.0h0M58.4 131.3h0M60.9 124.7h0M55.2 131.8h0M61.5 126.1h0M57.6 127.8h0M70.4 125.2h0M66.6 130.8h0M62.1 130.1h0M56.3 129.1h0M63.4 130.9h0M64.7 127.9h0M64.9 124.9h0M62.2 133.0h0M59.4 131.8h0M58.6 131.5h0M53.0 131.2h0M60.9 132.5h0M66.8 129.9h0M63.0 132.2h0M61.3 131.8h0M65.4 132.1h0M59.9 126.2h0M63.2 127.6h0M55.9 129.0h0M65.4 131.9h0M60.1 131.6h0M64.7 130.8h0M57.0 128.1h0M55.8 131.1h0M63.3 131.6h0M57.9 131.6h0M63.0 129.9h0M56.9 127.0h0M59.8 125.9h0M60.1 129.7h0M62.2 132.8h0M66.6 128.8h0M60.8 132.0h0M65.9 128.6h0M56.5 132.3h0M61.1 133.1h0M56.0 132.2h0M62.7 129.9h0M58.0 124.0h0M64.6 132.3h0M65.8 128.8h0M60.9 132.6h0M55.4 128.2h0M59.3 131.0h0M62.0 125.2h0M62.0 130.1h0M57.5 131.6h0M56.9 131.8h0M56.5 126.4h0M64.9 131.5h0M64.4 129.1h0M49.3 128.9h0M58.7 124.6h0" stroke="#666" stroke-width="0.68" stroke-linecap="round" fill="none"/>
<path d="M71.1 138.4h0M56.7 133.2h0M66.0 129.0h0M66.1 133.2h0M69.1 137.5h0M57.4 130.6h0M59.0 130.5h0M56.6 129.1h0M66.5 131.8h0M66.1 131.1h0M50.4 140.5h0M71.5 148.1h0M52.9 134.2h0M68.4 143.1h0M73.3 141.5h0M50.9 146.5h0M71.8 143.0h0M69.0 146.1h0M48.7 152.2h0M53.0 134.6h0M71.4 152.5h0M68.8 154.9h0M61.5 124.8h0M50.5 142.2h0M57.5 131.9h0M69.6 147.7h0M63.5 132.2h0M65.0 131.4h0M55.2 128.5h0M59.3 131.6h0M69.6 145.0h0M49.9 154.7h0M50.1 138.6h0M68.1 135.8h0M54.6 133.8h0M57.0 132.2h0M54.4 128.5h0M68.5 133.6h0M68.6 154.5h0M54.8 132.6h0M68.5 147.1h0M48.1 138.8h0M67.9 137.9h0M50.4 148.7h0M53.5 135.7h0M69.9 155.0h0M52.5 132.9h0M57.4 126.6h0M58.7 128.5h0M60.0 130.4h0M50.8 138.4h0M64.8 132.8h0M68.1 134.4h0M52.1 136.7h0M69.1 139.5h0M68.0 131.8h0M63.7 132.3h0M61.1 124.7h0M65.1 129.0h0M65.6 132.7h0M64.4 128.7h0M70.1 146.1h0M51.1 158.7h0M52.3 132.2h0M49.2 135.3h0M51.0 136.4h0M51.6 148.8h0M63.3 132.5h0M47.1 142.7h0M54.0 135.3h0M69.0 143.8h0M53.3 131.7h0M71.3 129.4h0M70.7 157.3h0M62.0 132.8h0M62.0 129.6h0M56.8 131.1h0M67.3 134.6h0M57.7 129.3h0M64.6 134.0h0M71.2 147.3h0M48.3 144.4h0M64.1 133.7h0M69.2 139.1h0M53.4 133.8h0M50.4 142.7h0M69.8 143.4h0M51.8 139.3h0M67.4 132.5h0M56.6 128.2h0M68.4 151.4h0M53.7 134.6h0M66.1 126.0h0M55.4 130.2h0M51.6 147.9h0M54.2 132.4h0M49.6 142.9h0M61.9 131.2h0M48.0 146.8h0M68.8 156.6h0M66.9 132.5h0M68.5 154.6h0M53.3 135.2h0M60.4 128.2h0M56.5 128.6h0M51.4 154.6h0M71.1 150.6h0M48.9 152.0h0M50.0 142.4h0M58.6 129.6h0M69.8 155.9h0M48.1 137.1h0M54.1 131.3h0M50.5 146.6h0M67.8 135.3h0M55.5 129.4h0M56.1 132.8h0M49.5 137.2h0M51.2 146.5h0M49.2 143.7h0M65.1 130.8h0M51.3 143.9h0M54.2 128.8h0M50.7 154.0h0M59.1 132.7h0M56.6 120.4h0M58.5 132.1h0M49.6 159.2h0M53.2 135.6h0M57.5 130.6h0M62.2 129.0h0M56.2 132.5h0M68.1 135.1h0M62.0 128.1h0M72.1 132.0h0M64.3 128.3h0M51.7 131.8h0M70.6 146.1h0M55.0 128.1h0M56.5 128.1h0M66.2 127.7h0M63.1 131.6h0M69.0 146.5h0M60.2 130.6h0M51.1 150.9h0M47.7 146.5h0M50.9 132.2h0M60.9 131.3h0M49.8 135.6h0M61.0 132.1h0M51.6 137.8h0M51.0 152.6h0M51.2 142.1h0M48.7 142.6h0M70.3 146.1h0M59.2 130.5h0M69.0 152.8h0M70.5 149.4h0M55.6 129.4h0M55.0 133.6h0M71.5 139.1h0M50.5 136.4h0M68.3 136.8h0M71.1 133.8h0M50.9 136.1h0M50.1 158.2h0M47.5 145.1h0M69.6 159.4h0M47.9 157.4h0M56.7 133.2h0M67.6 135.4h0M67.3 134.7h0M58.0 125.1h0M56.9 131.7h0M57.8 131.3h0M49.7 154.3h0M66.2 134.2h0M63.2 128.4h0M70.3 132.6h0M67.8 132.1h0M71.4 159.1h0M63.7 130.7h0M51.7 139.5h0M69.1 146.3h0M47.1 145.7h0M68.0 138.0h0M69.0 145.7h0M61.9 132.8h0M58.4 132.3h0M66.7 132.1h0M58.6 130.5h0M68.6 133.2h0M49.5 141.5h0M60.4 130.2h0M70.0 137.1h0M55.2 128.9h0M51.5 133.4h0M61.2 131.2h0M50.1 138.4h0M58.2 128.6h0M56.2 129.2h0M67.0 135.3h0M66.4 131.9h0" stroke="#333" stroke-width="0.68" stroke-linecap="round" fill="none"/>
<path d="M52.3 129.9h0M46.0 155.2h0M69.1 157.7h0M70.5 154.7h0M70.8 159.1h0M49.4 155.0h0M49.2 148.6h0M61.4 128.4h0M53.2 133.4h0M71.3 146.8h0M65.5 127.6h0M48.6 140.8h0M68.4 152.5h0M51.9 136.1h0M67.2 131.2h0M50.0 149.3h0M54.0 131.8h0M73.2 153.0h0M51.5 137.9h0M61.2 131.3h0M66.1 131.7h0M57.5 128.3h0M71.4 142.1h0M67.4 130.0h0M67.9 128.6h0M53.2 134.5h0M59.5 129.9h0M57.2 120.5h0M62.9 128.2h0M70.5 138.7h0M51.3 148.1h0M52.9 129.8h0M67.0 136.3h0M49.3 145.4h0M64.7 131.3h0M66.0 133.6h0M70.4 147.2h0M52.6 131.2h0M53.1 135.2h0M50.3 142.0h0M64.3 131.8h0M63.8 131.9h0M68.3 138.4h0M65.8 127.4h0M58.0 132.8h0M63.5 131.9h0M69.0 144.5h0M70.8 141.7h0M57.2 131.4h0M50.7 132.2h0M51.7 137.8h0M46.6 135.2h0M52.4 136.4h0M51.7 136.0h0M66.7 132.6h0M72.1 138.8h0M71.3 144.8h0M66.1 134.9h0M68.6 158.5h0M64.8 124.1h0M53.0 136.0h0M69.6 155.5h0M51.7 138.9h0M55.6 130.8h0M70.9 141.3h0M50.6 147.2h0M68.0 132.7h0M57.7 131.8h0M48.8 156.0h0M50.8 141.5h0M50.1 141.2h0M66.5 135.7h0M50.9 139.4h0M72.2 139.0h0M63.8 132.5h0M64.1 131.8h0M55.0 132.1h0M73.0 136.6h0M59.8 132.4h0M51.5 133.5h0M52.6 136.8h0M67.4 133.7h0M60.1 130.6h0M70.6 146.7h0M49.8 128.6h0M65.0 132.2h0M69.5 159.5h0M69.6 134.3h0M63.2 132.0h0M65.2 132.3h0M71.2 159.3h0M68.7 128.7h0M66.4 132.1h0M60.4 131.0h0M69.0 134.7h0M54.1 131.4h0M48.7 145.6h0M57.9 130.7h0M49.0 139.4h0M62.9 130.2h0M47.9 140.0h0M49.5 129.5h0M46.4 151.5h0M48.9 147.0h0M53.8 134.8h0M67.9 134.4h0M49.2 150.9h0M49.8 151.4h0M69.8 138.8h0M62.5 129.7h0M61.6 128.5h0M51.8 134.6h0M69.3 151.8h0M67.2 126.9h0M71.0 137.6h0M69.8 154.3h0M50.1 149.5h0M67.9 136.3h0M51.3 144.2h0M49.5 141.9h0M64.8 130.3h0M65.3 132.2h0M44.0 136.9h0M51.4 155.6h0M56.3 130.3h0M49.9 134.9h0M55.5 131.4h0M56.2 130.5h0M51.9 127.2h0M67.9 137.5h0M57.9 132.3h0M69.6 149.0h0M53.8 130.9h0M50.0 148.2h0M55.1 131.7h0M51.7 138.3h0M48.9 128.3h0M67.7 129.4h0M65.2 133.0h0M61.8 130.4h0M55.6 133.8h0M73.8 139.4h0M51.1 145.4h0M61.0 129.6h0M55.9 129.3h0M63.8 128.8h0M53.3 135.7h0M68.5 145.7h0M51.2 131.9h0M67.8 129.3h0M56.6 128.5h0M69.6 140.6h0M64.4 133.4h0M65.0 129.2h0M50.7 143.5h0M60.5 130.5h0M48.4 141.2h0M61.9 128.8h0M48.2 158.3h0M50.7 156.2h0M62.3 128.8h0M72.1 139.8h0M52.7 134.5h0M62.8 132.9h0M63.5 127.7h0M54.0 133.0h0M58.5 131.4h0M61.3 131.2h0M60.9 132.4h0M66.3 134.4h0M71.6 136.7h0M51.3 136.5h0M69.0 159.5h0M51.5 138.2h0M69.8 147.2h0M57.4 131.1h0M62.1 130.5h0M50.5 157.4h0M48.6 128.6h0M61.5 129.7h0M69.6 135.3h0M53.0 128.7h0M68.3 132.1h0M51.8 132.2h0M52.8 135.0h0M55.6 126.6h0M48.5 133.2h0M69.6 141.3h0M53.9 129.4h0M51.1 143.3h0M71.0 140.6h0M59.0 132.2h0M69.9 135.3h0M57.4 131.8h0M57.7 130.0h0M69.1 135.3h0M59.7 131.2h0M58.3 132.3h0M56.9 132.5h0M64.7 131.1h0M50.6 146.3h0M67.9 136.0h0M49.5 141.7h0M72.7 147.7h0M63.1 131.0h0M62.2 124.0h0M71.4 144.7h0M63.7 127.4h0M52.7 133.7h0M51.2 133.8h0M70.9 136.8h0M55.5 130.4h0M66.5 134.8h0M53.3 135.7h0M60.4 132.3h0M63.3 130.8h0M72.6 137.1h0" stroke="#777" stroke-width="0.68" stroke-linecap="round" fill="none"/>
<path d="M59.5 132.0h0M55.2 132.8h0M60.6 131.5h0M68.9 150.2h0M50.0 144.0h0M61.8 132.5h0M67.7 136.4h0M67.6 136.8h0M69.5 138.9h0M66.9 135.7h0M68.5 138.2h0M51.2 140.6h0M66.3 134.5h0M68.9 154.9h0M67.0 134.9h0M54.8 133.7h0M54.3 134.8h0M68.5 157.9h0M67.0 136.3h0M51.0 157.9h0M50.5 141.2h0M50.4 156.4h0M66.6 134.0h0M68.5 147.4h0M51.2 139.8h0M53.5 133.9h0M63.2 132.9h0M69.4 158.8h0M57.8 131.4h0M51.6 149.5h0M66.4 134.6h0M61.6 132.5h0M50.9 140.9h0M64.2 132.9h0M69.5 142.3h0M51.6 154.1h0M65.4 134.5h0M69.9 145.6h0M50.6 140.7h0M52.8 136.0h0M62.2 131.8h0M67.9 136.2h0M66.1 134.9h0M63.3 132.8h0M51.2 153.9h0M51.4 138.8h0M69.2 143.7h0M69.0 141.6h0M50.5 143.2h0M52.6 136.1h0M51.7 137.7h0M68.5 156.1h0M69.2 147.2h0M59.6 132.5h0M60.5 131.2h0M57.8 132.8h0M66.4 132.9h0M68.6 153.3h0M66.3 135.3h0M54.2 134.5h0M51.1 139.8h0M55.9 132.1h0M61.8 132.7h0M53.8 135.4h0M51.6 152.7h0M55.5 132.6h0M68.6 143.5h0M51.6 146.3h0M53.5 135.1h0M51.6 138.3h0M51.7 154.0h0M69.2 147.9h0M52.4 137.6h0M68.8 144.1h0M63.0 132.6h0M67.8 137.7h0M66.8 134.5h0M69.1 145.7h0M53.3 136.1h0M51.0 156.2h0M51.2 153.8h0M68.1 138.3h0M68.6 149.9h0M69.4 150.7h0M57.8 132.5h0M59.4 131.5h0M68.8 144.9h0M51.0 147.1h0M50.8 141.8h0M51.5 149.9h0M62.3 132.9h0M51.5 159.3h0M69.1 145.9h0M66.5 135.0h0M62.7 132.9h0M69.6 141.0h0M54.9 134.1h0M57.5 132.9h0M68.2 137.8h0M55.9 133.4h0M50.2 139.6h0M68.6 141.7h0M50.2 147.4h0M63.1 132.8h0M57.4 132.5h0M69.1 143.9h0M51.2 154.6h0M64.0 132.6h0M69.7 155.0h0M69.0 139.3h0M57.4 131.8h0M63.1 132.3h0M51.4 146.4h0M68.8 143.2h0M68.6 143.2h0M54.0 135.2h0M50.9 152.9h0M69.4 156.2h0M61.2 131.7h0M68.9 157.2h0M51.2 157.3h0M63.9 133.1h0M69.0 139.2h0M66.5 135.5h0M69.3 144.3h0M68.3 135.2h0M52.5 135.0h0M66.9 135.6h0M50.2 138.1h0M51.2 148.7h0M70.1 146.8h0M50.3 143.8h0M57.5 131.3h0M54.8 134.2h0M68.7 149.8h0M69.5 140.6h0M59.9 132.6h0M51.4 140.5h0M53.6 135.2h0M51.6 141.1h0M50.2 154.6h0M68.4 141.3h0M66.8 134.7h0M65.9 134.5h0M62.4 132.8h0M64.1 133.4h0M55.1 133.9h0M54.3 133.5h0M58.9 132.7h0M53.1 135.6h0M50.5 147.5h0M50.5 149.3h0M65.6 134.2h0M63.6 133.5h0M59.5 131.8h0M64.9 134.1h0M51.2 144.5h0M60.6 132.1h0M68.6 157.3h0M57.1 132.5h0M68.5 139.5h0M58.6 132.3h0M69.0 156.8h0M69.8 142.8h0M63.4 132.1h0M69.0 154.1h0M68.5 150.9h0M56.8 133.3h0M68.8 157.6h0M68.8 154.5h0M67.4 135.0h0M57.7 131.8h0M69.0 158.2h0M51.2 155.3h0M51.7 145.5h0M68.0 136.2h0M68.8 138.4h0M68.8 158.5h0M67.4 136.4h0M69.1 152.9h0M68.6 138.6h0M51.4 149.1h0M55.0 133.9h0M51.4 150.1h0M63.9 132.3h0M50.2 153.4h0M51.5 156.0h0M53.5 135.5h0M64.8 134.0h0M59.7 132.0h0M67.7 135.0h0M50.9 151.7h0M58.3 132.8h0M51.6 143.7h0M69.1 152.7h0M65.1 133.8h0M57.4 133.0h0M51.6 136.8h0M53.0 134.2h0M50.8 139.9h0M50.3 144.2h0M69.3 153.6h0M63.0 132.5h0M67.9 136.3h0M62.0 132.0h0M53.6 135.2h0M51.0 149.7h0M69.1 153.3h0M68.8 140.8h0M53.3 135.5h0M68.5 150.8h0M54.7 133.2h0M69.1 148.6h0M68.8 148.9h0M50.8 158.9h0M55.8 133.4h0M69.5 146.2h0M51.6 149.5h0M58.6 131.7h0M60.0 131.1h0M68.5 153.2h0M66.3 133.5h0M52.6 135.5h0M51.0 138.3h0M60.9 131.8h0M50.0 153.4h0M50.4 141.0h0M49.8 146.3h0M69.0 146.1h0M68.6 140.5h0M69.4 148.8h0M69.3 152.0h0M50.9 146.7h0M50.8 142.4h0M65.2 133.1h0M69.1 153.7h0M50.3 140.2h0M51.7 142.6h0M52.2 137.1h0M53.7 135.5h0M53.0 136.5h0M64.5 133.1h0M61.8 130.7h0M51.0 148.0h0M59.8 132.5h0M59.3 131.5h0M62.7 133.1h0M63.1 132.7h0M51.5 149.2h0M51.4 145.8h0M55.2 133.4h0M51.4 140.6h0M50.9 148.5h0M59.1 131.2h0M56.8 132.5h0M51.8 138.9h0M58.6 132.4h0M55.6 133.1h0M69.4 149.8h0M71.0 145.7h0M68.3 139.2h0M69.1 141.0h0M58.6 132.3h0M55.3 133.6h0M57.8 132.8h0M53.6 135.4h0M69.3 152.7h0M62.6 132.6h0M51.0 152.6h0M66.8 135.7h0M69.4 140.1h0M55.3 134.1h0M66.3 134.8h0M61.5 132.2h0M64.8 133.9h0M68.6 152.2h0M51.5 154.5h0M66.4 134.9h0M66.4 134.4h0M57.4 132.8h0M68.4 150.1h0M67.5 135.5h0M58.6 132.2h0M67.9 138.0h0M55.0 133.4h0M51.5 158.5h0M57.2 132.5h0M63.0 132.9h0M68.8 147.7h0M69.3 157.7h0M61.9 131.7h0M68.8 143.7h0M59.8 132.3h0M52.7 135.7h0M60.6 132.3h0M57.3 132.3h0M68.8 135.1h0M50.2 156.8h0M68.5 153.6h0M58.7 130.9h0M49.8 140.3h0M69.0 153.1h0M65.9 133.8h0M68.6 134.7h0M51.5 139.2h0M51.2 159.2h0M51.4 146.0h0M61.6 132.3h0M56.0 132.8h0M56.2 132.6h0M51.7 150.0h0M61.6 132.7h0M51.5 143.9h0M69.5 142.0h0M52.6 136.7h0M63.0 133.0h0M64.1 132.9h0M50.6 141.6h0M51.6 138.7h0M61.1 132.4h0M66.2 134.7h0M68.3 137.1h0M61.9 132.2h0M63.2 131.9h0M62.4 132.7h0M66.1 134.4h0M51.0 151.2h0M53.7 135.0h0M67.2 133.8h0M69.7 139.5h0M63.7 133.3h0M57.0 132.9h0M67.0 134.8h0M69.7 144.0h0M69.0 159.1h0M51.4 140.7h0M69.3 141.1h0M69.6 153.7h0M51.5 148.3h0M69.0 154.3h0M54.5 133.8h0M51.6 136.5h0M52.6 137.2h0M63.8 133.0h0M57.3 133.0h0M51.4 140.8h0M52.5 134.7h0M51.4 156.4h0M66.7 134.7h0M70.3 152.8h0M51.3 157.5h0M60.2 131.9h0M68.6 138.6h0M50.6 155.6h0M58.1 132.1h0M51.6 146.5h0M67.2 135.9h0M69.0 149.1h0M61.4 132.2h0M60.4 132.3h0M51.6 144.8h0M63.8 131.5h0M55.1 133.4h0M64.9 134.2h0M52.9 136.6h0M67.9 138.0h0M68.9 141.7h0M69.1 155.6h0M69.4 152.8h0M57.4 132.4h0M51.7 144.3h0M68.5 142.8h0M70.2 147.7h0M50.8 141.9h0M68.9 145.9h0M63.0 133.1h0M60.9 132.3h0M63.6 132.0h0M52.3 135.8h0M69.3 137.9h0M66.5 133.5h0M68.9 139.4h0M60.4 132.1h0M63.0 131.7h0M65.1 134.0h0M68.6 146.9h0M66.1 134.2h0M53.2 134.0h0M67.7 136.0h0M67.8 136.5h0M69.3 142.2h0M53.5 135.7h0M63.2 131.8h0M60.3 132.0h0M60.5 132.3h0M69.9 145.0h0M59.2 132.6h0M65.3 133.9h0M66.5 134.3h0M69.8 140.0h0M68.9 157.7h0M51.4 144.3h0M50.8 144.4h0M68.6 158.1h0M55.4 133.8h0M52.8 135.6h0M50.3 144.2h0M51.4 143.8h0M68.8 146.7h0M57.2 132.4h0M63.8 132.8h0M51.3 140.1h0M65.5 134.0h0M51.4 147.1h0M50.1 159.4h0M67.8 135.8h0M69.3 141.7h0M61.4 131.8h0M68.6 141.8h0M69.2 157.9h0M55.5 133.7h0M56.0 133.0h0M55.2 133.3h0M68.5 157.2h0M69.1 141.0h0M51.4 137.8h0M55.8 133.6h0M67.4 136.3h0M69.6 152.3h0M57.0 133.2h0M51.7 135.1h0M69.0 150.4h0M57.9 132.5h0M55.7 133.3h0M53.9 134.7h0M50.9 144.7h0M51.2 151.3h0M64.4 133.6h0M66.0 134.1h0M68.9 142.7h0M61.0 131.8h0M61.0 132.1h0M69.3 142.7h0M68.7 153.6h0M51.7 140.6h0M67.2 136.5h0M69.5 139.8h0M69.1 157.4h0M69.0 156.9h0M64.1 133.4h0M50.3 155.3h0M67.3 136.0h0M51.4 136.6h0M68.4 145.4h0M67.7 137.4h0M64.5 133.1h0M61.0 131.8h0M68.5 138.6h0M51.7 137.3h0M68.9 151.0h0M53.9 133.0h0M64.9 133.0h0M55.2 134.0h0M50.3 157.5h0M59.3 132.1h0M69.2 138.1h0M57.0 133.2h0M53.0 135.3h0M51.1 140.7h0M70.7 143.8h0M51.3 138.8h0M68.7 138.1h0M51.0 144.2h0M66.5 135.5h0M66.9 135.5h0M68.4 144.7h0M50.7 158.3h0M52.7 137.1h0M51.4 143.4h0M69.2 143.5h0M56.2 132.8h0M68.9 139.0h0M58.5 132.7h0M69.7 145.4h0M69.9 146.5h0M69.4 136.7h0M51.5 147.2h0M69.4 145.6h0M69.3 147.9h0M51.3 140.9h0M69.0 156.0h0M49.9 155.2h0M53.6 135.6h0M69.3 137.4h0M69.8 150.4h0M50.6 139.4h0M51.4 139.0h0M50.7 140.7h0M69.7 145.0h0M51.5 138.8h0M55.1 133.4h0M51.7 135.9h0M63.8 133.4h0M59.9 132.5h0M61.5 130.4h0M58.1 132.1h0M62.9 133.1h0M60.4 132.0h0M55.9 133.0h0M68.6 138.8h0M50.4 156.5h0M60.6 132.4h0M51.5 137.9h0M68.9 147.7h0M50.9 149.1h0M62.8 132.0h0M65.0 133.6h0M63.6 133.4h0M69.0 150.8h0M51.7 148.9h0M69.8 146.1h0M51.2 144.6h0M54.4 133.7h0M68.6 153.8h0M56.6 132.9h0M52.8 134.6h0M54.7 134.4h0M52.4 137.3h0M65.0 134.2h0M68.9 140.2h0M67.7 136.2h0M68.5 137.6h0M55.5 134.0h0M67.1 135.7h0M54.3 134.9h0M64.8 133.5h0M65.9 134.5h0M52.9 135.0h0M51.6 149.3h0M51.1 148.2h0M51.6 152.3h0M51.6 150.4h0M56.9 132.8h0M68.8 146.6h0" stroke="#111" stroke-width="0.72" stroke-linecap="round" fill="none"/>
<path d="M55.3 133.7h0M51.1 149.4h0M50.3 146.4h0M49.6 140.7h0M51.0 155.3h0M65.0 133.4h0M68.6 154.0h0M63.8 132.8h0M55.7 132.3h0M51.5 139.6h0M69.5 139.6h0M53.5 135.5h0M68.1 136.8h0M69.7 156.2h0M69.6 149.6h0M51.5 149.5h0M69.2 146.8h0M69.2 146.1h0M68.5 151.4h0M67.5 135.4h0M68.3 138.4h0M68.8 157.2h0M54.6 134.3h0M51.1 136.3h0M65.2 133.9h0M51.0 144.6h0M67.9 137.7h0M66.5 135.8h0M68.8 150.2h0M51.9 137.5h0M60.3 132.7h0M68.0 134.2h0M56.2 131.2h0M67.2 136.1h0M70.2 139.9h0M68.8 135.8h0M68.5 155.1h0M49.9 151.8h0M65.4 133.8h0M67.7 137.2h0M50.3 148.6h0M64.5 134.0h0M69.6 141.1h0M51.1 136.9h0M51.3 150.8h0M68.4 150.0h0M51.2 151.9h0M69.4 150.7h0M68.8 143.4h0M58.1 131.7h0M58.8 131.8h0M50.7 145.1h0M63.7 131.6h0M51.0 142.1h0M51.4 146.1h0M50.4 137.6h0M51.1 157.3h0M51.6 146.0h0M57.1 133.2h0M51.4 149.9h0M51.7 138.5h0M68.4 139.2h0M70.3 138.6h0M59.2 131.8h0M68.5 148.6h0M50.2 147.0h0M68.8 139.6h0M69.4 149.6h0M53.0 135.7h0M50.2 154.4h0M51.9 138.8h0M68.6 149.6h0M55.2 133.1h0M54.8 134.5h0M67.1 136.5h0M66.7 134.9h0M55.4 133.5h0M52.0 138.3h0M61.0 132.5h0M51.7 152.7h0M51.4 145.7h0M57.7 132.7h0M65.2 132.5h0M53.7 134.9h0M65.6 134.7h0M69.6 155.9h0M51.1 152.7h0M50.6 140.7h0M52.9 136.5h0M69.3 146.7h0M70.4 141.1h0M68.7 155.8h0M52.5 137.5h0M51.3 142.6h0M68.3 138.3h0M60.0 132.3h0M61.7 132.3h0M65.4 134.3h0M51.6 154.6h0M54.6 134.3h0M53.1 135.7h0M51.4 143.0h0M65.3 132.9h0M62.0 131.8h0M52.3 137.2h0M68.6 135.7h0M51.9 136.6h0M67.3 135.9h0M51.0 138.6h0M51.7 155.5h0M68.2 137.3h0M51.0 140.4h0M51.4 154.8h0M69.6 144.3h0M67.4 136.7h0M69.2 145.3h0M63.1 132.2h0M68.6 150.3h0M61.4 131.9h0M53.8 135.5h0M69.0 138.5h0M51.7 140.6h0M70.2 156.3h0M70.1 141.6h0M69.0 153.7h0M52.1 136.7h0M68.6 157.7h0M61.1 132.1h0M68.6 141.2h0M51.3 154.8h0M65.9 134.6h0M57.8 132.7h0M61.1 132.3h0M69.0 143.9h0M51.5 155.2h0M51.5 137.6h0M51.6 143.5h0M51.6 154.5h0M53.6 135.3h0M51.4 147.8h0M67.3 135.7h0M51.6 138.3h0M64.7 133.0h0M68.8 145.1h0M66.6 135.2h0M54.7 134.5h0M62.1 132.5h0M68.9 137.9h0M51.2 142.3h0M51.5 141.4h0M55.8 133.7h0M59.6 131.6h0M59.7 132.3h0M68.3 136.0h0M51.3 159.1h0M51.4 147.5h0" stroke="#555" stroke-width="0.72" stroke-linecap="round" fill="none"/>
<path d="M51.70,159.60 L51.70,141.05 A8.35,8.35 0 0 1 68.40,141.05 L68.40,159.60 Z" fill="#111" stroke="none" stroke-width="0" />
<path d="M53.00,159.60 L53.00,141.35 A7.05,7.05 0 0 1 67.10,141.35 L67.10,159.60 Z" fill="#777" stroke="none" stroke-width="0" />
<path d="M53.60,159.60 L53.60,141.55 A6.45,6.45 0 0 1 66.50,141.55 L66.50,159.60 Z" fill="#f4f4f4" stroke="none" stroke-width="0" />
<path d="M54.50,159.60 L54.50,141.85 A5.55,5.55 0 0 1 65.60,141.85 L65.60,159.60 Z" fill="#1a1a1a" stroke="none" stroke-width="0" />
<path d="M56.10,159.60 L56.10,142.65 A3.95,3.95 0 0 1 64.00,142.65 L64.00,159.60 Z" fill="#505050" stroke="none" stroke-width="0" />
<path d="M57.10,159.60 L57.10,143.65 A2.95,2.95 0 0 1 63.00,143.65 L63.00,159.60 Z" fill="#0a0a0a" stroke="none" stroke-width="0" />
<line x1="60.05" y1="143.20" x2="60.05" y2="157.80" stroke="#c8c8c8" stroke-width="0.9" />
<rect x="51.20" y="158.20" width="17.70" height="1.40" fill="#000" stroke="none" stroke-width="1.0" />
<path d="M140.2 123.4h0M138.1 119.2h0M132.0 122.2h0M130.1 121.2h0M130.5 126.8h0M140.5 131.6h0M131.0 128.9h0M136.5 130.0h0M128.6 112.5h0M131.2 128.9h0M132.5 125.9h0M137.7 132.5h0M137.4 117.2h0M135.9 112.8h0M129.6 128.6h0M132.6 116.8h0M131.1 113.3h0M132.2 116.7h0M130.9 117.5h0M132.2 102.5h0M133.2 127.8h0M129.0 122.3h0M132.0 126.2h0M139.7 115.4h0M133.1 129.8h0M133.9 125.2h0M132.1 119.8h0M134.9 132.2h0M130.9 116.6h0M135.3 124.4h0M128.4 125.1h0M132.3 117.5h0M131.8 122.4h0M127.4 123.5h0M130.6 125.6h0M137.9 104.8h0M130.7 123.7h0M131.7 130.0h0M134.9 131.0h0M142.1 114.5h0M131.1 129.1h0M129.4 115.0h0M133.1 118.0h0M134.0 132.6h0M136.9 118.3h0M134.7 127.5h0M133.9 116.1h0M131.6 114.0h0M139.6 112.8h0M129.9 125.9h0M136.2 128.1h0M132.8 130.7h0M133.0 130.5h0M130.3 124.1h0M132.2 129.8h0M128.3 109.2h0M133.3 123.6h0M132.0 128.3h0M138.3 119.5h0M137.7 127.3h0M130.4 112.3h0M130.4 132.5h0M133.9 122.1h0M138.4 121.7h0M133.6 116.6h0M128.5 119.4h0M135.1 121.1h0M132.3 126.8h0M133.7 112.0h0M129.8 126.3h0M136.2 123.1h0M132.9 103.0h0M134.0 114.8h0M132.5 131.5h0M134.6 126.7h0M130.2 131.1h0M137.5 124.2h0M135.8 129.7h0M133.9 113.4h0M132.9 131.1h0M131.7 104.5h0M133.4 123.4h0M135.9 118.0h0M133.1 114.6h0M133.4 132.2h0M128.7 130.7h0M132.8 116.2h0M137.6 121.4h0M133.2 108.2h0M134.4 126.4h0M130.8 130.1h0M125.9 119.8h0M130.3 129.4h0M135.0 124.0h0M138.2 120.6h0M130.0 112.9h0M128.7 116.0h0M131.2 122.3h0M136.4 112.5h0M132.4 123.2h0M137.4 116.0h0M131.5 123.5h0M131.5 130.5h0M132.6 127.0h0M134.9 113.1h0M129.9 113.1h0M134.7 114.2h0M136.4 125.3h0M135.7 131.2h0M131.8 120.9h0M136.6 101.3h0M126.9 128.4h0M134.7 130.9h0M137.0 116.8h0M131.3 125.4h0M134.6 128.3h0M133.2 118.1h0M132.0 123.9h0M131.1 124.6h0M133.3 127.7h0M130.5 112.3h0M125.1 103.0h0M129.1 129.5h0M135.3 116.6h0" stroke="#aaa" stroke-width="0.64" stroke-linecap="round" fill="none"/>
<path d="M137.4 119.5h0M128.1 101.4h0M136.3 125.2h0M129.4 109.7h0M129.4 128.3h0M135.2 126.7h0M134.1 116.5h0M132.4 128.8h0M132.9 122.8h0M136.1 122.2h0M133.3 123.1h0M137.3 119.1h0M130.8 120.2h0M133.8 127.1h0M130.8 120.1h0M131.3 125.3h0M135.3 125.6h0M130.6 122.9h0M125.8 127.8h0M129.1 123.4h0M138.7 117.4h0M126.1 124.0h0M132.3 119.1h0M130.4 112.8h0M133.4 130.3h0M132.7 113.7h0M134.2 128.4h0M131.5 128.0h0M135.5 115.2h0M130.8 110.7h0M129.5 130.9h0M133.5 121.5h0M131.5 104.0h0M129.2 125.6h0M134.4 121.2h0M137.9 125.4h0M138.0 108.7h0M131.5 122.1h0M131.1 130.0h0M134.7 122.8h0M135.1 120.7h0M135.7 120.1h0" stroke="#888" stroke-width="0.64" stroke-linecap="round" fill="none"/>
<path d="M122.5 132.0h0M140.5 134.6h0M129.4 133.9h0M132.0 135.0h0M142.9 125.7h0M139.4 127.4h0M129.6 126.0h0M136.1 133.4h0M133.4 134.6h0M136.0 132.6h0M134.2 132.9h0M132.4 133.4h0M138.6 134.0h0M140.9 132.2h0M133.4 129.9h0M131.3 134.3h0M131.9 135.2h0M135.8 125.4h0M135.2 130.2h0M130.0 126.7h0M136.0 131.1h0M134.5 133.5h0M135.2 133.2h0M135.7 134.2h0M129.4 130.8h0M138.4 127.5h0M132.3 129.8h0M135.2 133.8h0M138.7 130.0h0M131.4 132.9h0M130.9 132.5h0M129.6 133.2h0M127.8 130.3h0M135.0 129.7h0M130.1 134.6h0M134.3 121.7h0M134.0 128.1h0M131.4 128.8h0M137.9 134.1h0M133.9 132.3h0M128.4 132.0h0M128.8 129.8h0M131.9 130.2h0M139.4 132.9h0M136.4 127.4h0M132.3 134.5h0M133.8 133.1h0M130.1 130.9h0M136.9 124.6h0M141.3 133.8h0M130.1 134.3h0M135.0 126.9h0M132.3 131.7h0M137.2 131.8h0M129.8 132.7h0M132.4 130.2h0M132.2 133.2h0M132.3 131.7h0M135.4 133.5h0M130.8 130.2h0M129.6 131.7h0M135.5 133.8h0M134.0 128.2h0M134.1 130.3h0M129.8 134.0h0M130.3 134.6h0M134.8 130.3h0M134.7 130.4h0M130.3 133.4h0M135.7 129.7h0M134.9 132.7h0M129.0 130.7h0M137.5 130.6h0M132.3 132.3h0M134.9 131.9h0M140.9 134.5h0M134.3 131.4h0M132.0 132.0h0M132.6 131.0h0M129.5 133.5h0M133.6 134.4h0M131.4 134.0h0M136.2 130.1h0M132.2 134.0h0M126.0 129.8h0M130.5 130.9h0M135.9 125.5h0M135.1 132.0h0M141.7 132.9h0M134.9 128.3h0M136.8 130.8h0M131.8 129.8h0M133.5 132.0h0M138.4 132.6h0M136.6 130.3h0M130.0 132.1h0M136.9 134.4h0M129.5 134.5h0M133.8 132.0h0M126.3 133.5h0M140.9 129.2h0M132.6 133.8h0M132.2 130.7h0M131.5 135.0h0M128.6 134.8h0M134.2 129.3h0M131.5 128.0h0M133.4 134.2h0M131.2 134.9h0M135.3 132.0h0M128.1 133.7h0M127.7 126.5h0M137.1 131.7h0M138.0 131.7h0M131.3 134.2h0M131.1 128.9h0M124.2 133.3h0M131.1 131.9h0M137.8 132.3h0M138.4 130.2h0M127.2 126.8h0M128.7 128.9h0M136.8 131.9h0M134.0 135.0h0M129.3 127.8h0M138.9 134.8h0M139.2 135.2h0M134.2 133.8h0M128.2 133.6h0M129.6 133.3h0" stroke="#666" stroke-width="0.68" stroke-linecap="round" fill="none"/>
<path d="M141.5 138.7h0M119.5 145.2h0M140.7 133.8h0M119.9 143.5h0M122.5 146.3h0M121.2 158.6h0M124.3 146.8h0M143.7 149.3h0M128.0 133.7h0M122.9 130.2h0M139.1 131.0h0M140.0 136.6h0M133.1 129.5h0M126.5 133.5h0M142.6 147.0h0M142.2 153.8h0M127.7 133.7h0M130.8 134.7h0M141.9 143.1h0M138.5 133.4h0M123.8 147.4h0M127.2 135.1h0M135.6 131.3h0M135.3 130.6h0M135.9 133.8h0M133.7 124.6h0M125.0 138.3h0M134.5 134.7h0M141.5 143.1h0M127.0 133.0h0M123.2 148.9h0M122.9 157.4h0M135.9 130.9h0M143.1 157.6h0M137.3 135.7h0M139.6 133.0h0M125.3 136.7h0M141.8 146.5h0M137.2 128.0h0M142.5 144.8h0M134.2 133.5h0M143.5 159.8h0M145.8 153.8h0M127.7 136.7h0M129.9 132.2h0M134.6 130.8h0M144.1 138.3h0M121.2 146.4h0M131.7 133.9h0M121.5 144.9h0M134.5 131.6h0M122.0 136.3h0M123.0 147.0h0M118.4 149.4h0M143.0 146.5h0M140.5 135.7h0M141.6 139.4h0M127.6 132.3h0M131.6 132.7h0M140.0 127.4h0M134.3 127.7h0M120.0 142.0h0M121.8 155.1h0M136.1 127.6h0M121.2 146.9h0M123.3 146.0h0M129.3 134.1h0M134.5 128.7h0M143.3 142.4h0M127.7 135.8h0M131.0 132.5h0M143.0 153.0h0M143.5 152.8h0M138.6 128.7h0M128.6 135.2h0M126.8 132.9h0M122.9 138.4h0M126.0 134.2h0M133.2 129.2h0M135.3 132.3h0M134.8 130.1h0M127.4 135.0h0M136.3 131.7h0M126.0 127.8h0M139.1 134.4h0M129.9 132.2h0M125.6 139.1h0M125.3 139.3h0M119.8 148.3h0M137.0 132.8h0M125.9 139.0h0M133.7 134.2h0M144.6 131.3h0M133.4 128.6h0M132.3 131.5h0M140.4 130.8h0M143.0 159.0h0M135.9 129.8h0M119.5 143.6h0M124.9 132.7h0M126.1 138.2h0M142.0 131.0h0M137.6 133.4h0M145.5 139.2h0M136.9 128.9h0M123.7 144.6h0M124.2 141.1h0M132.3 134.6h0M134.7 129.1h0M124.9 134.7h0M126.9 134.1h0M141.8 149.0h0M132.2 132.2h0M134.1 133.9h0M133.0 134.4h0M141.6 135.8h0M130.8 128.8h0M130.5 131.0h0M133.7 128.4h0M141.7 139.3h0M125.6 134.0h0M131.6 125.6h0M128.7 133.9h0M135.6 132.9h0M136.3 135.2h0M135.4 134.4h0M135.3 131.9h0M132.6 129.4h0M125.6 135.5h0M141.9 157.8h0M128.2 133.9h0M134.7 134.5h0M127.9 133.6h0M135.2 133.9h0M143.7 143.3h0M123.9 148.9h0M124.2 139.7h0M125.0 137.3h0M138.8 132.9h0M137.2 134.1h0M143.5 146.6h0M121.3 135.3h0M143.2 134.9h0M138.2 131.3h0M141.6 158.0h0M141.2 135.5h0M130.8 131.9h0M123.3 149.8h0M130.7 134.5h0M142.8 159.7h0M138.0 135.7h0M141.0 138.4h0M141.2 133.0h0M144.0 157.2h0M136.3 130.8h0M144.8 141.0h0M123.8 147.6h0M143.7 134.0h0M125.1 132.1h0M145.6 152.9h0M133.9 129.2h0M143.1 141.3h0M132.5 132.0h0M129.2 134.2h0M128.7 133.6h0M136.0 134.7h0M133.9 133.5h0M135.1 134.5h0M121.9 138.0h0M129.1 132.8h0M118.8 148.9h0M124.0 142.9h0M143.4 159.2h0M124.8 135.6h0M124.8 158.4h0M124.5 158.8h0M128.1 135.3h0M137.7 135.0h0M124.2 159.5h0M144.7 158.4h0M133.8 132.4h0M133.7 132.1h0M141.9 159.7h0M136.4 131.8h0M141.3 140.8h0M119.0 143.8h0M142.2 140.4h0M123.2 145.1h0M145.0 157.9h0M134.0 133.8h0M141.2 138.8h0M138.1 134.9h0M123.6 143.1h0M142.6 140.5h0M123.7 139.0h0M129.7 133.8h0M128.4 133.1h0M121.8 137.6h0M135.8 132.2h0M123.1 140.0h0M123.8 145.2h0M133.2 132.6h0M128.9 128.6h0M135.2 134.0h0M124.5 159.6h0M138.4 133.3h0M122.9 156.5h0M142.9 148.2h0M142.7 143.7h0M128.5 132.8h0M142.1 142.2h0M142.5 154.0h0M140.9 139.4h0M121.6 133.6h0M138.1 133.7h0M143.4 142.6h0M145.4 140.3h0M129.5 134.5h0M129.7 128.9h0M130.8 134.2h0M133.2 133.9h0M133.2 128.4h0M133.9 132.9h0M126.9 136.3h0M127.5 134.1h0M126.2 132.5h0M139.5 134.2h0M135.0 131.8h0M139.8 135.0h0M143.4 137.5h0M127.4 134.2h0M123.9 145.1h0M119.6 157.7h0M143.0 152.2h0M137.0 133.2h0M126.5 137.8h0" stroke="#777" stroke-width="0.68" stroke-linecap="round" fill="none"/>
<path d="M143.1 149.6h0M126.1 133.4h0M124.8 143.1h0M121.6 143.1h0M129.9 134.1h0M131.3 130.6h0M134.7 129.1h0M124.6 134.5h0M143.6 157.8h0M126.0 134.9h0M140.4 137.3h0M123.4 137.5h0M141.8 137.3h0M134.4 134.3h0M132.7 131.2h0M135.6 129.3h0M121.2 140.9h0M143.9 144.3h0M143.5 131.4h0M133.2 128.4h0M142.5 136.3h0M129.0 132.8h0M123.1 143.9h0M139.6 136.5h0M142.6 136.9h0M142.9 158.9h0M120.2 142.9h0M144.5 149.2h0M143.6 140.3h0M127.4 136.5h0M137.1 130.1h0M141.3 129.2h0M142.9 150.0h0M141.6 139.3h0M123.8 136.8h0M139.1 135.4h0M138.5 134.3h0M125.8 130.2h0M123.3 159.9h0M143.0 146.0h0M138.8 132.3h0M143.5 141.5h0M127.5 132.4h0M127.3 136.1h0M134.2 133.6h0M123.7 132.0h0M123.8 151.9h0M133.9 134.4h0M142.2 143.2h0M125.1 140.1h0M133.3 131.6h0M119.9 152.1h0M135.5 132.3h0M121.4 154.9h0M123.0 146.0h0M130.5 132.7h0M126.5 137.7h0M141.6 145.9h0M123.7 147.6h0M121.6 141.1h0M141.1 131.2h0M144.1 151.1h0M141.6 135.3h0M141.9 133.1h0M141.5 139.0h0M144.0 143.8h0M123.6 144.7h0M143.7 133.4h0M140.2 132.5h0M141.9 157.6h0M135.7 132.8h0M129.6 134.9h0M135.0 131.2h0M141.9 150.9h0M123.0 143.1h0M124.4 150.3h0M134.8 128.6h0M144.1 145.4h0M126.4 135.0h0M140.4 136.3h0M139.4 136.7h0M132.6 131.6h0M124.3 146.9h0M124.3 148.9h0M142.3 129.4h0M140.5 136.7h0M121.4 140.3h0M130.4 130.5h0M139.2 131.0h0M138.6 135.6h0M125.2 137.0h0M136.2 132.5h0M143.8 145.1h0M124.5 151.1h0M138.1 135.2h0M122.6 158.1h0M123.1 138.7h0M134.9 131.3h0M142.8 141.7h0M138.0 133.7h0M140.7 136.0h0M121.1 150.0h0M124.7 141.6h0M132.8 133.0h0M126.6 136.6h0M133.9 134.3h0M145.2 146.1h0M123.7 145.8h0M132.6 132.4h0M128.1 127.8h0M133.1 133.3h0M123.6 141.3h0M139.3 136.0h0M135.4 131.4h0M133.5 130.1h0M140.0 137.0h0M134.9 134.5h0M144.3 154.7h0M139.2 137.1h0M142.5 133.6h0M144.8 146.9h0M127.3 136.4h0M131.0 130.8h0M126.6 131.8h0M131.0 132.8h0M143.4 146.6h0M129.0 132.2h0M121.1 135.5h0M123.1 144.7h0M141.7 139.9h0M133.1 134.0h0M130.6 127.8h0M132.6 131.3h0M133.4 132.7h0M148.7 141.7h0M134.0 133.9h0M135.0 132.3h0M133.9 128.7h0M121.7 143.4h0M124.9 143.2h0M144.1 159.4h0M143.4 142.8h0M125.5 137.0h0M127.9 126.5h0M123.4 150.8h0M125.6 133.0h0M146.5 157.8h0M123.7 134.6h0M131.3 131.7h0M142.6 131.6h0M140.5 134.6h0M125.5 137.8h0M140.7 131.4h0M125.9 132.7h0M128.5 135.9h0M142.0 136.9h0M143.6 156.9h0M133.8 134.0h0M123.7 139.8h0M124.7 148.6h0M139.3 127.5h0M143.9 154.1h0M128.4 131.8h0M134.8 126.8h0M123.6 141.8h0M144.1 145.1h0M128.4 131.5h0M140.6 136.7h0M140.6 138.6h0M125.9 136.0h0M136.0 132.9h0M129.1 132.9h0M142.6 144.9h0M136.7 133.8h0M144.8 149.9h0M135.5 131.1h0M133.2 126.7h0M119.4 146.4h0M142.1 159.0h0M138.0 134.8h0M138.3 134.6h0M134.0 133.8h0M123.5 138.8h0M139.9 137.4h0" stroke="#333" stroke-width="0.68" stroke-linecap="round" fill="none"/>
<path d="M124.7 146.4h0M135.5 135.0h0M136.9 134.6h0M123.5 147.6h0M138.8 136.3h0M142.0 140.8h0M136.4 135.3h0M125.1 139.8h0M137.4 135.8h0M141.7 141.3h0M139.4 136.8h0M141.3 139.3h0M142.4 145.8h0M124.5 154.4h0M142.7 142.9h0M138.5 135.0h0M124.8 140.9h0M127.3 136.9h0M124.7 156.9h0M140.7 139.3h0M124.4 144.5h0M132.9 133.7h0M143.2 140.1h0M137.4 135.6h0M140.3 136.8h0M123.3 148.4h0M124.6 153.9h0M134.3 134.5h0M124.1 142.4h0M125.4 140.1h0M135.8 134.6h0M130.7 134.7h0M142.0 159.1h0M131.1 133.5h0M124.6 155.3h0M141.2 139.9h0M140.4 138.2h0M123.8 143.2h0M130.1 135.1h0M141.7 141.4h0M124.2 160.0h0M143.7 142.0h0M136.3 134.3h0M126.2 138.0h0M124.8 158.0h0M123.9 154.6h0M133.7 134.4h0M130.5 134.3h0M142.2 147.2h0M141.6 157.9h0M124.0 144.9h0M138.9 136.4h0M141.7 152.1h0M141.9 137.9h0M124.1 155.2h0M138.7 136.6h0M124.7 154.5h0M138.8 135.8h0M124.6 148.9h0M142.5 155.8h0M123.9 148.0h0M128.5 135.6h0M136.7 134.6h0M143.1 143.4h0M125.7 136.1h0M136.9 135.2h0M124.7 152.5h0M134.4 134.7h0M140.7 138.1h0M127.9 135.6h0M133.8 134.6h0M141.6 153.4h0M142.4 156.4h0M127.9 136.0h0M132.7 134.1h0M133.7 134.0h0M141.8 151.6h0M124.7 145.0h0M124.7 154.5h0M125.4 139.9h0M137.7 135.5h0M129.2 135.0h0M133.1 134.5h0M139.0 136.3h0M140.2 136.4h0M141.7 143.9h0M124.5 147.1h0M135.0 134.4h0M137.9 135.2h0M131.7 134.5h0M136.8 134.1h0M128.9 135.8h0M124.7 141.5h0M141.9 151.5h0M123.8 141.1h0M141.3 141.0h0M135.4 134.6h0M141.6 143.4h0M130.5 135.0h0M125.0 141.3h0M126.8 136.9h0M141.8 151.3h0M142.6 147.3h0M137.5 134.9h0M124.5 148.3h0M125.0 139.9h0M141.2 139.6h0M136.7 134.6h0M123.5 152.5h0M137.4 135.4h0M123.9 146.1h0M141.7 151.1h0M125.5 137.6h0M124.6 150.5h0M142.5 142.3h0M141.9 150.1h0M141.2 136.9h0M124.7 153.3h0M135.7 134.7h0M141.7 158.7h0M126.0 138.1h0M133.1 133.9h0M124.9 145.6h0M135.6 134.6h0M140.0 138.0h0M143.2 144.6h0M127.0 137.0h0M128.8 135.9h0M124.6 142.7h0M126.5 137.1h0M124.9 142.2h0M142.6 144.0h0M124.2 157.2h0M133.3 134.0h0M140.7 139.1h0M138.0 136.2h0M127.7 136.6h0M130.7 134.8h0M140.3 138.3h0M141.2 138.2h0M124.6 155.2h0M133.4 134.5h0M141.8 157.6h0M130.5 135.1h0M138.8 136.2h0M141.6 139.6h0M141.8 143.9h0M126.3 135.8h0M136.4 135.2h0M127.1 136.5h0M141.6 150.1h0M128.0 136.0h0M126.1 138.1h0M142.5 158.4h0M122.7 154.1h0M137.7 134.6h0M141.8 143.8h0M132.2 134.4h0M124.5 141.3h0M128.6 135.8h0M125.5 139.0h0M139.7 137.6h0M142.8 147.9h0M129.1 135.1h0M142.7 158.7h0M140.8 138.4h0M141.9 149.3h0M143.2 151.7h0" stroke="#555" stroke-width="0.72" stroke-linecap="round" fill="none"/>
<path d="M126.5 135.7h0M141.8 139.7h0M133.2 134.3h0M140.3 136.6h0M142.4 149.8h0M140.5 138.2h0M126.8 137.2h0M136.5 135.4h0M141.6 145.8h0M142.9 153.7h0M142.1 157.9h0M134.8 133.8h0M132.9 134.2h0M143.0 147.0h0M132.1 133.4h0M137.9 134.6h0M130.3 135.1h0M127.7 135.8h0M135.1 134.8h0M124.3 146.8h0M141.9 142.1h0M140.2 137.4h0M143.3 149.5h0M134.9 134.8h0M136.6 134.3h0M140.5 138.4h0M141.7 141.2h0M141.8 144.9h0M135.9 134.2h0M138.7 135.9h0M125.8 138.0h0M128.9 134.2h0M123.0 147.6h0M140.4 138.3h0M124.8 146.0h0M126.9 136.0h0M124.3 158.6h0M131.5 134.8h0M142.2 150.8h0M126.0 136.9h0M131.3 134.9h0M123.3 149.2h0M124.2 141.2h0M138.5 135.9h0M142.6 150.9h0M137.2 134.7h0M141.9 149.5h0M129.2 135.3h0M133.2 134.7h0M129.8 134.8h0M142.5 148.8h0M133.9 134.2h0M138.4 136.3h0M142.4 137.7h0M142.3 159.4h0M142.0 149.3h0M125.7 137.5h0M123.8 142.8h0M137.9 135.1h0M141.0 139.2h0M131.7 134.7h0M139.6 136.9h0M141.5 144.6h0M128.2 135.6h0M141.6 158.0h0M123.8 154.2h0M124.2 140.3h0M141.6 153.0h0M137.1 134.5h0M136.7 133.7h0M131.2 134.6h0M124.2 144.3h0M141.5 143.1h0M131.4 133.5h0M137.9 134.9h0M124.0 153.0h0M138.9 136.5h0M142.4 151.1h0M125.4 137.9h0M126.9 137.2h0M124.1 157.0h0M140.9 138.9h0M124.0 159.3h0M135.6 135.0h0M136.7 135.0h0M124.5 153.9h0M141.8 146.6h0M124.9 140.0h0M123.7 142.6h0M138.6 136.6h0M141.9 145.9h0M136.5 135.0h0M139.9 137.9h0M129.3 133.9h0M123.9 152.5h0M136.4 133.4h0M130.4 134.4h0M142.5 144.6h0M131.1 134.6h0M132.8 133.6h0M138.8 134.3h0M129.8 134.8h0M134.5 134.6h0M134.8 134.8h0M133.2 133.0h0M129.1 135.2h0M139.3 136.7h0M138.6 136.2h0M142.3 159.5h0M123.6 151.7h0M125.5 137.9h0M124.4 139.3h0M129.3 134.6h0M139.8 137.8h0M133.9 134.0h0M132.3 132.8h0M132.5 134.0h0M124.3 148.4h0M133.3 133.6h0M142.6 157.3h0M126.0 138.0h0M129.7 134.3h0M138.9 135.4h0M141.1 137.3h0M133.6 133.5h0M139.0 135.9h0M130.5 134.8h0M125.5 139.5h0M143.1 147.1h0M127.3 136.2h0M132.9 134.5h0M135.3 134.6h0M139.5 136.4h0M142.4 145.6h0M124.5 137.8h0M124.3 155.3h0M125.9 138.4h0M141.8 158.8h0M129.6 133.8h0M143.7 142.6h0M142.8 145.3h0M123.8 148.7h0M141.7 149.5h0M123.4 147.7h0M137.7 135.2h0M140.9 138.3h0M124.5 142.4h0M140.4 138.6h0M135.2 134.6h0M133.6 134.4h0M141.3 140.0h0M124.2 149.4h0M142.2 149.5h0M124.4 156.4h0M131.1 133.8h0M124.1 143.1h0M140.0 137.6h0M142.1 156.1h0M139.5 137.1h0M127.3 135.5h0M141.5 142.3h0M138.9 135.9h0M124.6 152.4h0M138.9 136.3h0M125.4 138.5h0M124.2 145.1h0M140.7 139.3h0M143.3 150.4h0M141.8 138.9h0M136.7 133.9h0M141.2 139.6h0M128.1 135.9h0M140.5 138.9h0M135.1 134.2h0M134.1 134.4h0M125.3 139.5h0M127.4 136.9h0M142.8 150.8h0M124.4 144.5h0M134.7 134.3h0M128.7 134.2h0M128.7 135.5h0M124.7 159.1h0M133.7 133.3h0M127.9 136.5h0M124.9 150.3h0M142.6 153.5h0M139.0 136.5h0M137.2 134.5h0M139.3 137.0h0M124.0 145.1h0M123.7 153.7h0M138.3 135.9h0M124.0 140.5h0M142.0 142.6h0M128.1 135.2h0M124.8 149.4h0M138.3 136.4h0M138.8 136.6h0M124.1 141.2h0M124.2 142.9h0M142.0 150.3h0M124.7 141.5h0M133.0 134.5h0M142.2 154.6h0M124.7 147.5h0M138.5 136.5h0M123.7 155.2h0M127.7 135.0h0M140.7 138.2h0M141.5 148.3h0M142.1 143.5h0M142.4 144.2h0M140.7 139.3h0M128.5 135.9h0M141.7 139.4h0M134.5 134.4h0M141.7 139.3h0M127.7 136.7h0M142.0 142.7h0M123.3 149.0h0M140.6 139.1h0M141.7 147.4h0M135.7 134.4h0M136.3 134.4h0M124.0 155.9h0M123.1 149.4h0M124.4 155.6h0M123.0 153.2h0M123.5 157.7h0M124.8 158.2h0M139.6 136.5h0M124.7 147.6h0M139.3 136.6h0M124.5 141.7h0M124.8 151.2h0M141.8 145.6h0M134.2 133.5h0M132.8 134.0h0M124.8 141.7h0M124.9 139.9h0M133.0 134.2h0M141.5 138.9h0M130.1 135.0h0M124.6 145.2h0M124.3 144.1h0M123.2 151.0h0M141.0 138.4h0M140.3 137.7h0M132.8 134.6h0M142.0 145.3h0M124.9 154.3h0M122.9 143.6h0M142.0 145.5h0M127.6 136.6h0M136.3 133.8h0M142.3 155.3h0M143.5 157.4h0M140.7 138.8h0M142.1 149.5h0M128.2 135.2h0M142.2 151.3h0M135.8 134.4h0M123.8 159.7h0M136.0 134.3h0M141.8 155.5h0M142.3 147.8h0M141.3 140.1h0M142.7 141.0h0M129.8 135.1h0M125.9 137.0h0M141.6 146.3h0M135.3 133.6h0M141.7 138.5h0M131.9 133.6h0M141.2 138.4h0M124.2 157.1h0M123.7 153.6h0M141.0 139.7h0M142.4 142.1h0M142.4 139.4h0M141.6 139.2h0M124.9 141.2h0M136.2 134.5h0M142.4 147.1h0M131.7 133.9h0M124.1 159.2h0M143.2 153.1h0M137.5 135.1h0M140.1 138.1h0M131.7 134.5h0M124.2 154.1h0M129.5 135.1h0M125.3 139.3h0M141.0 139.4h0M140.2 138.1h0M124.6 141.2h0M126.9 136.8h0M142.3 145.6h0M139.2 135.2h0M141.6 155.1h0M123.5 149.4h0M128.0 135.5h0M138.5 136.5h0M124.6 143.0h0M124.5 138.9h0M128.1 135.4h0M130.3 135.0h0M127.0 136.5h0M125.3 139.2h0M124.4 142.6h0M142.6 150.2h0M142.9 149.3h0M134.9 134.0h0M138.6 136.6h0M124.7 141.3h0M124.1 146.4h0M123.6 158.7h0M124.8 158.8h0M126.2 138.3h0M131.3 134.8h0M124.4 151.2h0M131.3 134.3h0M142.6 154.9h0M142.6 138.8h0M131.3 133.9h0M132.7 133.1h0M134.4 133.2h0M123.7 146.0h0M140.4 138.2h0M131.7 134.6h0M125.6 137.5h0M140.8 138.7h0M124.6 140.8h0M131.3 134.2h0M130.6 135.1h0M125.6 138.5h0M142.6 150.9h0M128.4 135.5h0M126.9 137.4h0M125.4 139.5h0M139.0 136.1h0M142.1 151.1h0M135.2 134.3h0M127.1 135.3h0M132.5 134.0h0M128.7 134.3h0M124.6 147.7h0M138.4 135.5h0M139.1 137.1h0M124.9 147.4h0M122.9 147.6h0M124.0 149.8h0M130.1 133.7h0M142.4 145.3h0M137.2 135.3h0M129.8 134.5h0M124.6 159.9h0M128.4 135.5h0M133.0 134.3h0M124.5 149.0h0M134.1 133.5h0M128.7 134.0h0M123.7 150.3h0M123.7 141.1h0M128.5 135.6h0M142.0 158.6h0M127.1 137.0h0M131.2 134.8h0M129.2 135.1h0M142.8 141.1h0M124.8 150.5h0M142.0 157.4h0M124.5 139.7h0M138.8 136.4h0M124.1 142.5h0M127.3 136.2h0M138.6 136.2h0M142.1 159.6h0M126.9 137.0h0M124.6 157.8h0M124.3 147.9h0M137.5 135.6h0M124.7 150.1h0M141.9 142.3h0M136.7 134.0h0M138.4 136.5h0M131.8 133.7h0M124.4 145.4h0M125.1 141.3h0M142.1 159.3h0M128.8 135.7h0M123.4 154.8h0M140.1 138.1h0M137.0 135.5h0M141.8 140.3h0M128.8 135.6h0M127.3 135.3h0M124.7 142.5h0M140.5 138.5h0M130.7 135.0h0M126.1 138.2h0M128.8 134.1h0M125.0 141.6h0M141.6 154.0h0M141.6 146.5h0M125.3 140.1h0M132.8 134.3h0M141.6 148.2h0M136.3 133.9h0M143.5 141.6h0M133.3 134.7h0M131.3 133.1h0M135.6 133.7h0M134.0 134.6h0M132.9 133.4h0M124.6 141.8h0M124.9 138.8h0M131.7 134.5h0M135.0 133.6h0M123.8 158.3h0M142.0 145.9h0M125.0 141.3h0M124.5 147.1h0M137.0 135.4h0M139.5 136.9h0M124.9 153.4h0M141.6 144.0h0M130.2 134.9h0M127.6 136.7h0M137.8 135.8h0M141.8 154.7h0M134.8 134.3h0M124.0 143.1h0M124.7 159.9h0M142.0 158.4h0M133.0 134.3h0M126.3 137.2h0M126.8 137.5h0M143.4 144.1h0M138.9 136.6h0M142.5 145.3h0M124.6 154.5h0M125.8 135.4h0M141.7 146.1h0M142.5 156.2h0M126.3 137.2h0M123.2 155.7h0M135.7 133.8h0M142.0 157.9h0M131.9 133.9h0M143.1 143.3h0M129.8 134.0h0M126.5 137.8h0M123.9 149.8h0M124.2 147.9h0M124.5 150.3h0M142.8 140.9h0M124.0 157.2h0M140.9 139.6h0M123.6 152.8h0M124.6 146.2h0M142.8 155.4h0M124.9 138.1h0M123.8 141.8h0M142.1 153.2h0M138.7 135.6h0M143.2 158.3h0M123.5 144.9h0M124.3 143.8h0M136.0 133.9h0M129.4 135.6h0M126.3 137.0h0M124.4 158.6h0M128.9 135.6h0M136.4 133.4h0M124.5 150.6h0M136.0 133.8h0M128.4 136.2h0M123.3 154.9h0M141.6 142.5h0M131.2 134.4h0M142.0 159.5h0M142.0 139.5h0M124.7 145.1h0M142.5 152.7h0M134.0 133.8h0M124.3 139.8h0M124.9 139.7h0M141.9 144.6h0M142.2 148.5h0M140.2 137.5h0M124.0 151.6h0M141.3 138.6h0M141.2 139.7h0M136.5 134.9h0M142.1 145.6h0M124.7 152.9h0M130.4 135.2h0M123.4 143.2h0M141.7 143.7h0M132.1 134.6h0M127.1 135.1h0M127.1 136.5h0M139.5 137.1h0M124.9 153.1h0M129.0 135.5h0M124.3 151.7h0M142.2 145.3h0M127.6 134.4h0M132.5 134.7h0M142.3 158.1h0M123.9 140.5h0M141.9 142.3h0M123.2 148.7h0M142.3 156.4h0M138.6 135.0h0M143.8 152.9h0M128.5 135.1h0M124.8 158.2h0M124.8 138.6h0M137.9 135.0h0M141.6 148.4h0M137.9 135.9h0M141.7 142.6h0M128.9 135.4h0M142.8 150.7h0M138.3 135.9h0M127.2 135.2h0M141.7 149.5h0M140.3 137.8h0M128.9 134.5h0" stroke="#111" stroke-width="0.72" stroke-linecap="round" fill="none"/>
<path d="M124.90,160.00 L124.90,143.00 A8.30,8.30 0 0 1 141.50,143.00 L141.50,160.00 Z" fill="#111" stroke="none" stroke-width="0" />
<path d="M126.20,160.00 L126.20,143.30 A7.00,7.00 0 0 1 140.20,143.30 L140.20,160.00 Z" fill="#777" stroke="none" stroke-width="0" />
<path d="M126.80,160.00 L126.80,143.50 A6.40,6.40 0 0 1 139.60,143.50 L139.60,160.00 Z" fill="#f4f4f4" stroke="none" stroke-width="0" />
<path d="M127.70,160.00 L127.70,143.80 A5.50,5.50 0 0 1 138.70,143.80 L138.70,160.00 Z" fill="#1a1a1a" stroke="none" stroke-width="0" />
<path d="M129.30,160.00 L129.30,144.60 A3.90,3.90 0 0 1 137.10,144.60 L137.10,160.00 Z" fill="#505050" stroke="none" stroke-width="0" />
<path d="M130.30,160.00 L130.30,145.60 A2.90,2.90 0 0 1 136.10,145.60 L136.10,160.00 Z" fill="#0a0a0a" stroke="none" stroke-width="0" />
<line x1="133.20" y1="145.20" x2="133.20" y2="158.20" stroke="#c8c8c8" stroke-width="0.9" />
<rect x="124.40" y="158.60" width="17.60" height="1.40" fill="#000" stroke="none" stroke-width="1.0" />
<text x="218.00" y="18.60" font-size="10.2" font-weight="bold" font-style="normal" text-anchor="start" fill="#111" textLength="70.4" lengthAdjust="spacingAndGlyphs" >Fraction of PE</text>
<text x="288.80" y="13.90" font-size="7.2" font-weight="bold" font-style="normal" text-anchor="start" fill="#111" textLength="21.6" lengthAdjust="spacingAndGlyphs" >Bright</text>
<text x="314.60" y="18.60" font-size="10.2" font-weight="bold" font-style="normal" text-anchor="start" fill="#111" textLength="21.8" lengthAdjust="spacingAndGlyphs" >cells</text>
<line x1="226.80" y1="31.90" x2="329.30" y2="31.90" stroke="#8a8a8a" stroke-width="1.3" />
<line x1="329.30" y1="31.90" x2="329.30" y2="138.80" stroke="#555" stroke-width="1.0" />
<line x1="226.80" y1="31.90" x2="226.80" y2="139.30" stroke="#333" stroke-width="1.1" />
<line x1="226.80" y1="138.80" x2="329.30" y2="138.80" stroke="#333" stroke-width="1.1" />
<line x1="224.80" y1="138.80" x2="226.80" y2="138.80" stroke="#333" stroke-width="0.9" />
<text x="223.20" y="142.00" font-size="8.6" font-weight="bold" font-style="normal" text-anchor="end" fill="#111" >0</text>
<line x1="224.80" y1="117.42" x2="226.80" y2="117.42" stroke="#333" stroke-width="0.9" />
<text x="223.20" y="120.62" font-size="8.6" font-weight="bold" font-style="normal" text-anchor="end" fill="#111" >5</text>
<line x1="224.80" y1="96.04" x2="226.80" y2="96.04" stroke="#333" stroke-width="0.9" />
<text x="223.20" y="99.24" font-size="8.6" font-weight="bold" font-style="normal" text-anchor="end" fill="#111" >10</text>
<line x1="224.80" y1="74.66" x2="226.80" y2="74.66" stroke="#333" stroke-width="0.9" />
<text x="223.20" y="77.86" font-size="8.6" font-weight="bold" font-style="normal" text-anchor="end" fill="#111" >15</text>
<line x1="224.80" y1="53.28" x2="226.80" y2="53.28" stroke="#333" stroke-width="0.9" />
<text x="223.20" y="56.48" font-size="8.6" font-weight="bold" font-style="normal" text-anchor="end" fill="#111" >20</text>
<line x1="224.80" y1="31.90" x2="226.80" y2="31.90" stroke="#333" stroke-width="0.9" />
<text x="223.20" y="35.10" font-size="8.6" font-weight="bold" font-style="normal" text-anchor="end" fill="#111" >25</text>
<text x="209.60" y="117.70" font-size="9.4" font-weight="normal" font-style="normal" text-anchor="start" fill="#111" stroke="#111" stroke-width="0.3" textLength="65" lengthAdjust="spacingAndGlyphs" transform="rotate(-90 209.60 117.70)" >% of GC B cells</text>
<rect x="235.20" y="87.49" width="34.70" height="51.31" fill="#686868" stroke="#111" stroke-width="1.2" />
<rect x="286.60" y="115.71" width="34.80" height="23.09" fill="#fff" stroke="#111" stroke-width="1.2" />
<circle cx="252.90" cy="59.27" r="2.50" fill="#111" stroke="none" stroke-width="1.0"/>
<circle cx="252.90" cy="85.35" r="2.50" fill="#111" stroke="none" stroke-width="1.0"/>
<circle cx="246.40" cy="95.18" r="2.50" fill="#111" stroke="none" stroke-width="1.0"/>
<circle cx="252.90" cy="101.17" r="2.50" fill="#111" stroke="none" stroke-width="1.0"/>
<circle cx="259.10" cy="96.90" r="2.50" fill="#111" stroke="none" stroke-width="1.0"/>
<rect x="301.50" y="83.15" width="4.40" height="4.40" fill="#111" stroke="none" stroke-width="1.0" />
<rect x="295.50" y="110.94" width="4.40" height="4.40" fill="#111" stroke="none" stroke-width="1.0" />
<rect x="301.70" y="113.08" width="4.40" height="4.40" fill="#111" stroke="none" stroke-width="1.0" />
<rect x="301.50" y="131.04" width="4.40" height="4.40" fill="#111" stroke="none" stroke-width="1.0" />
<rect x="308.00" y="131.04" width="4.40" height="4.40" fill="#111" stroke="none" stroke-width="1.0" />
<line x1="252.00" y1="48.60" x2="305.20" y2="48.60" stroke="#777" stroke-width="1.2" />
<text x="278.00" y="46.30" font-size="12" font-weight="bold" font-style="normal" text-anchor="middle" fill="#111" >*</text>
<line x1="252.30" y1="138.80" x2="252.30" y2="140.80" stroke="#333" stroke-width="0.9" />
<line x1="304.30" y1="138.80" x2="304.30" y2="140.80" stroke="#333" stroke-width="0.9" />
<text x="252.30" y="149.80" font-size="8.3" font-weight="bold" font-style="normal" text-anchor="middle" fill="#111" textLength="37.6" lengthAdjust="spacingAndGlyphs" >Wild Type</text>
<text x="290.60" y="149.80" font-size="8.3" font-weight="bold" font-style="italic" text-anchor="start" fill="#111" textLength="19.5" lengthAdjust="spacingAndGlyphs" >Noxa</text>
<text x="310.40" y="146.20" font-size="5" font-weight="bold" font-style="italic" text-anchor="start" fill="#111" >-/-</text>
<text x="401.70" y="19.40" font-size="10" font-weight="bold" font-style="normal" text-anchor="start" fill="#111" textLength="82" lengthAdjust="spacingAndGlyphs" >Mean PE binding</text>
<line x1="377.60" y1="31.90" x2="516.40" y2="31.90" stroke="#8a8a8a" stroke-width="1.3" />
<line x1="516.40" y1="31.90" x2="516.40" y2="138.20" stroke="#555" stroke-width="1.0" />
<line x1="377.60" y1="31.90" x2="377.60" y2="138.70" stroke="#333" stroke-width="1.1" />
<line x1="377.60" y1="138.20" x2="516.40" y2="138.20" stroke="#333" stroke-width="1.1" />
<line x1="375.60" y1="138.20" x2="377.60" y2="138.20" stroke="#333" stroke-width="0.9" />
<text x="374.00" y="141.40" font-size="8.6" font-weight="bold" font-style="normal" text-anchor="end" fill="#111" textLength="5" lengthAdjust="spacingAndGlyphs" >0</text>
<line x1="375.60" y1="111.62" x2="377.60" y2="111.62" stroke="#333" stroke-width="0.9" />
<text x="374.00" y="114.83" font-size="8.6" font-weight="bold" font-style="normal" text-anchor="end" fill="#111" textLength="10" lengthAdjust="spacingAndGlyphs" >50</text>
<line x1="375.60" y1="85.05" x2="377.60" y2="85.05" stroke="#333" stroke-width="0.9" />
<text x="374.00" y="88.25" font-size="8.6" font-weight="bold" font-style="normal" text-anchor="end" fill="#111" textLength="12.2" lengthAdjust="spacingAndGlyphs" >100</text>
<line x1="375.60" y1="58.47" x2="377.60" y2="58.47" stroke="#333" stroke-width="0.9" />
<text x="374.00" y="61.67" font-size="8.6" font-weight="bold" font-style="normal" text-anchor="end" fill="#111" textLength="12.2" lengthAdjust="spacingAndGlyphs" >150</text>
<line x1="375.60" y1="31.90" x2="377.60" y2="31.90" stroke="#333" stroke-width="0.9" />
<text x="374.00" y="35.10" font-size="8.6" font-weight="bold" font-style="normal" text-anchor="end" fill="#111" textLength="12.2" lengthAdjust="spacingAndGlyphs" >200</text>
<text x="356.60" y="92.00" font-size="9" font-weight="normal" font-style="normal" text-anchor="start" fill="#111" stroke="#111" stroke-width="0.3" textLength="14.5" lengthAdjust="spacingAndGlyphs" transform="rotate(-90 356.60 92.00)" >MFI</text>
<line x1="395.60" y1="138.20" x2="395.60" y2="140.40" stroke="#333" stroke-width="0.9" />
<line x1="430.10" y1="138.20" x2="430.10" y2="140.40" stroke="#333" stroke-width="0.9" />
<line x1="464.70" y1="138.20" x2="464.70" y2="140.40" stroke="#333" stroke-width="0.9" />
<line x1="499.20" y1="138.20" x2="499.20" y2="140.40" stroke="#333" stroke-width="0.9" />
<rect x="383.80" y="131.00" width="23.80" height="2.60" fill="#111" stroke="none" stroke-width="1.0" />
<rect x="418.40" y="132.20" width="23.60" height="2.80" fill="#111" stroke="none" stroke-width="1.0" />
<line x1="464.50" y1="48.38" x2="464.50" y2="62.20" stroke="#111" stroke-width="1.3" />
<line x1="458.50" y1="48.38" x2="470.50" y2="48.38" stroke="#111" stroke-width="1.3" />
<rect x="453.20" y="62.20" width="22.60" height="36.14" fill="#d4d4d4" stroke="#111" stroke-width="1.4" />
<line x1="453.20" y1="88.24" x2="475.80" y2="88.24" stroke="#111" stroke-width="1.4" />
<line x1="499.20" y1="87.71" x2="499.20" y2="100.99" stroke="#111" stroke-width="1.3" />
<line x1="493.20" y1="87.71" x2="505.20" y2="87.71" stroke="#111" stroke-width="1.3" />
<rect x="487.90" y="100.99" width="22.60" height="19.67" fill="#d4d4d4" stroke="#111" stroke-width="1.4" />
<line x1="487.90" y1="113.75" x2="510.50" y2="113.75" stroke="#111" stroke-width="1.4" />
<line x1="465.10" y1="42.80" x2="501.30" y2="42.80" stroke="#777" stroke-width="1.2" />
<text x="482.60" y="44.10" font-size="12" font-weight="bold" font-style="normal" text-anchor="middle" fill="#111" >*</text>
<text x="397.00" y="153.60" font-size="8.8" font-weight="normal" fill="#111" text-anchor="end" transform="rotate(-25 397.00 153.60)" textLength="44.5" lengthAdjust="spacingAndGlyphs" stroke="#111" stroke-width="0.25"><tspan dy="0">WT FB Cells</tspan></text>
<text x="431.60" y="153.60" font-size="8.8" font-weight="normal" fill="#111" text-anchor="end" transform="rotate(-25 431.60 153.60)" textLength="55.1" lengthAdjust="spacingAndGlyphs" stroke="#111" stroke-width="0.25"><tspan font-style="italic" font-weight="bold" font-size="9.6">Noxa</tspan><tspan font-size="5.5" dy="-3">-/-</tspan><tspan dy="3">FB Cells</tspan></text>
<text x="466.20" y="153.60" font-size="8.8" font-weight="normal" fill="#111" text-anchor="end" transform="rotate(-25 466.20 153.60)" textLength="54.0" lengthAdjust="spacingAndGlyphs" stroke="#111" stroke-width="0.25"><tspan dy="0">WT GC B Cells</tspan></text>
<text x="500.80" y="153.60" font-size="8.8" font-weight="normal" fill="#111" text-anchor="end" transform="rotate(-25 500.80 153.60)" textLength="63.6" lengthAdjust="spacingAndGlyphs" stroke="#111" stroke-width="0.25"><tspan font-style="italic" font-weight="bold" font-size="9.6">Noxa</tspan><tspan font-size="5.5" dy="-3">-/-</tspan><tspan dy="3">GC B Cells</tspan></text>
<line x1="14.20" y1="288.30" x2="14.20" y2="223.40" stroke="#111" stroke-width="1.7" />
<path d="M14.20,219.00 L17.30,224.80 L14.20,223.40 L11.10,224.80 Z" fill="#111" stroke="#111" stroke-width="0.6" stroke-linejoin="round"/>
<text x="18.90" y="334.00" font-size="13" font-weight="bold" font-style="normal" text-anchor="start" fill="#111" textLength="36.5" lengthAdjust="spacingAndGlyphs" transform="rotate(-90 18.90 334.00)" >OD415</text>
<text x="37.70" y="359.50" font-size="12.5" font-weight="bold" font-style="normal" text-anchor="start" fill="#111" textLength="141.5" lengthAdjust="spacingAndGlyphs" >Serum Concentration (%)</text>
<line x1="191.00" y1="356.10" x2="501.40" y2="356.10" stroke="#111" stroke-width="1.8" />
<path d="M506.20,356.10 L500.00,359.20 L501.40,356.10 L500.00,353.00 Z" fill="#111" stroke="#111" stroke-width="0.6" stroke-linejoin="round"/>
<text x="110.00" y="206.00" font-size="11" font-weight="bold" font-style="normal" text-anchor="middle" fill="#111" >IgM</text>
<line x1="39.60" y1="218.80" x2="180.80" y2="218.80" stroke="#a0a0a0" stroke-width="1.3" />
<line x1="180.80" y1="218.80" x2="180.80" y2="336.60" stroke="#a0a0a0" stroke-width="1.0" />
<line x1="39.60" y1="218.80" x2="39.60" y2="336.60" stroke="#8a8a8a" stroke-width="1.1" />
<line x1="39.60" y1="336.60" x2="180.80" y2="336.60" stroke="#8a8a8a" stroke-width="1.1" />
<line x1="37.40" y1="336.60" x2="39.60" y2="336.60" stroke="#888" stroke-width="0.8" />
<text x="36.40" y="339.10" font-size="7.2" font-weight="bold" font-style="normal" text-anchor="end" fill="#111" stroke="#111" stroke-width="0.25" textLength="9.0" lengthAdjust="spacingAndGlyphs" >0.0</text>
<line x1="37.40" y1="315.58" x2="39.60" y2="315.58" stroke="#888" stroke-width="0.8" />
<text x="36.40" y="318.08" font-size="7.2" font-weight="bold" font-style="normal" text-anchor="end" fill="#111" stroke="#111" stroke-width="0.25" textLength="9.0" lengthAdjust="spacingAndGlyphs" >0.5</text>
<line x1="37.40" y1="294.56" x2="39.60" y2="294.56" stroke="#888" stroke-width="0.8" />
<text x="36.40" y="297.06" font-size="7.2" font-weight="bold" font-style="normal" text-anchor="end" fill="#111" stroke="#111" stroke-width="0.25" textLength="9.0" lengthAdjust="spacingAndGlyphs" >1.0</text>
<line x1="37.40" y1="273.54" x2="39.60" y2="273.54" stroke="#888" stroke-width="0.8" />
<text x="36.40" y="276.04" font-size="7.2" font-weight="bold" font-style="normal" text-anchor="end" fill="#111" stroke="#111" stroke-width="0.25" textLength="9.0" lengthAdjust="spacingAndGlyphs" >1.5</text>
<line x1="37.40" y1="252.52" x2="39.60" y2="252.52" stroke="#888" stroke-width="0.8" />
<text x="36.40" y="255.02" font-size="7.2" font-weight="bold" font-style="normal" text-anchor="end" fill="#111" stroke="#111" stroke-width="0.25" textLength="9.0" lengthAdjust="spacingAndGlyphs" >2.0</text>
<line x1="37.40" y1="231.50" x2="39.60" y2="231.50" stroke="#888" stroke-width="0.8" />
<text x="36.40" y="234.00" font-size="7.2" font-weight="bold" font-style="normal" text-anchor="end" fill="#111" stroke="#111" stroke-width="0.25" textLength="9.0" lengthAdjust="spacingAndGlyphs" >2.5</text>
<line x1="67.30" y1="336.60" x2="67.30" y2="338.40" stroke="#888" stroke-width="0.8" />
<text x="68.50" y="346.70" font-size="7.4" font-weight="bold" font-style="normal" text-anchor="end" fill="#222" stroke="#222" stroke-width="0.2" >10</text>
<text x="70.00" y="343.70" font-size="4.6" font-weight="bold" font-style="normal" text-anchor="start" fill="#555" >-2</text>
<line x1="119.30" y1="336.60" x2="119.30" y2="338.40" stroke="#888" stroke-width="0.8" />
<text x="120.50" y="346.70" font-size="7.4" font-weight="bold" font-style="normal" text-anchor="end" fill="#222" stroke="#222" stroke-width="0.2" >10</text>
<text x="122.00" y="343.70" font-size="4.6" font-weight="bold" font-style="normal" text-anchor="start" fill="#555" >-1</text>
<line x1="171.30" y1="336.60" x2="171.30" y2="338.40" stroke="#888" stroke-width="0.8" />
<text x="172.50" y="346.70" font-size="7.4" font-weight="bold" font-style="normal" text-anchor="end" fill="#222" stroke="#222" stroke-width="0.2" >10</text>
<text x="174.00" y="343.70" font-size="4.6" font-weight="bold" font-style="normal" text-anchor="start" fill="#555" >0</text>
<path d="M47.30,331.56 L72.10,327.35 L96.90,312.43 L121.70,289.31 L146.50,250.42 L171.30,236.97" fill="none" stroke="#a0a0a0" stroke-width="0.9" />
<path d="M47.30,331.98 L72.10,327.35 L96.90,312.85 L121.70,289.73 L146.50,269.34 L171.30,265.55" fill="none" stroke="#a0a0a0" stroke-width="0.9" />
<line x1="72.10" y1="326.09" x2="72.10" y2="328.61" stroke="#111" stroke-width="1.4" />
<line x1="69.50" y1="326.09" x2="74.70" y2="326.09" stroke="#111" stroke-width="1.4" />
<line x1="69.50" y1="328.61" x2="74.70" y2="328.61" stroke="#111" stroke-width="1.4" />
<line x1="96.90" y1="305.91" x2="96.90" y2="317.68" stroke="#111" stroke-width="1.4" />
<line x1="94.30" y1="305.91" x2="99.50" y2="305.91" stroke="#111" stroke-width="1.4" />
<line x1="94.30" y1="317.68" x2="99.50" y2="317.68" stroke="#111" stroke-width="1.4" />
<line x1="121.70" y1="277.74" x2="121.70" y2="300.87" stroke="#111" stroke-width="1.4" />
<line x1="119.10" y1="277.74" x2="124.30" y2="277.74" stroke="#111" stroke-width="1.4" />
<line x1="119.10" y1="300.87" x2="124.30" y2="300.87" stroke="#111" stroke-width="1.4" />
<line x1="146.50" y1="233.60" x2="146.50" y2="254.62" stroke="#111" stroke-width="1.4" />
<line x1="143.90" y1="233.60" x2="149.10" y2="233.60" stroke="#111" stroke-width="1.4" />
<line x1="143.90" y1="254.62" x2="149.10" y2="254.62" stroke="#111" stroke-width="1.4" />
<line x1="171.30" y1="223.93" x2="171.30" y2="249.58" stroke="#111" stroke-width="1.4" />
<line x1="168.70" y1="223.93" x2="173.90" y2="223.93" stroke="#111" stroke-width="1.4" />
<line x1="168.70" y1="249.58" x2="173.90" y2="249.58" stroke="#111" stroke-width="1.4" />
<line x1="47.30" y1="330.71" x2="47.30" y2="333.66" stroke="#111" stroke-width="1.4" />
<line x1="44.70" y1="330.71" x2="49.90" y2="330.71" stroke="#111" stroke-width="1.4" />
<line x1="44.70" y1="333.66" x2="49.90" y2="333.66" stroke="#111" stroke-width="1.4" />
<line x1="72.10" y1="326.09" x2="72.10" y2="328.61" stroke="#111" stroke-width="1.4" />
<line x1="69.50" y1="326.09" x2="74.70" y2="326.09" stroke="#111" stroke-width="1.4" />
<line x1="69.50" y1="328.61" x2="74.70" y2="328.61" stroke="#111" stroke-width="1.4" />
<line x1="96.90" y1="307.17" x2="96.90" y2="318.52" stroke="#111" stroke-width="1.4" />
<line x1="94.30" y1="307.17" x2="99.50" y2="307.17" stroke="#111" stroke-width="1.4" />
<line x1="94.30" y1="318.52" x2="99.50" y2="318.52" stroke="#111" stroke-width="1.4" />
<line x1="121.70" y1="278.58" x2="121.70" y2="302.13" stroke="#111" stroke-width="1.4" />
<line x1="119.10" y1="278.58" x2="124.30" y2="278.58" stroke="#111" stroke-width="1.4" />
<line x1="119.10" y1="302.13" x2="124.30" y2="302.13" stroke="#111" stroke-width="1.4" />
<line x1="146.50" y1="253.36" x2="146.50" y2="282.79" stroke="#111" stroke-width="1.4" />
<line x1="143.90" y1="253.36" x2="149.10" y2="253.36" stroke="#111" stroke-width="1.4" />
<line x1="143.90" y1="282.79" x2="149.10" y2="282.79" stroke="#111" stroke-width="1.4" />
<line x1="171.30" y1="256.72" x2="171.30" y2="273.54" stroke="#111" stroke-width="1.4" />
<line x1="168.70" y1="256.72" x2="173.90" y2="256.72" stroke="#111" stroke-width="1.4" />
<line x1="168.70" y1="273.54" x2="173.90" y2="273.54" stroke="#111" stroke-width="1.4" />
<rect x="44.90" y="329.58" width="4.80" height="4.80" fill="#fff" stroke="#111" stroke-width="1.1" />
<rect x="69.70" y="324.95" width="4.80" height="4.80" fill="#fff" stroke="#111" stroke-width="1.1" />
<rect x="94.50" y="310.45" width="4.80" height="4.80" fill="#fff" stroke="#111" stroke-width="1.1" />
<rect x="119.30" y="287.33" width="4.80" height="4.80" fill="#fff" stroke="#111" stroke-width="1.1" />
<rect x="144.10" y="266.94" width="4.80" height="4.80" fill="#fff" stroke="#111" stroke-width="1.1" />
<rect x="168.90" y="263.15" width="4.80" height="4.80" fill="#fff" stroke="#111" stroke-width="1.1" />
<circle cx="47.30" cy="331.56" r="2.60" fill="#111" stroke="none" stroke-width="1.0"/>
<circle cx="72.10" cy="327.35" r="2.60" fill="#111" stroke="none" stroke-width="1.0"/>
<circle cx="96.90" cy="312.43" r="2.60" fill="#111" stroke="none" stroke-width="1.0"/>
<circle cx="121.70" cy="289.31" r="2.60" fill="#111" stroke="none" stroke-width="1.0"/>
<circle cx="146.50" cy="250.42" r="2.60" fill="#111" stroke="none" stroke-width="1.0"/>
<circle cx="171.30" cy="236.97" r="2.60" fill="#111" stroke="none" stroke-width="1.0"/>
<line x1="47.40" y1="229.60" x2="56.40" y2="229.60" stroke="#aaa" stroke-width="0.8" />
<circle cx="51.90" cy="229.60" r="2.40" fill="#111" stroke="none" stroke-width="1.0"/>
<line x1="47.40" y1="244.00" x2="56.40" y2="244.00" stroke="#aaa" stroke-width="0.8" />
<rect x="49.50" y="241.60" width="4.80" height="4.80" fill="#fff" stroke="#111" stroke-width="1.0" />
<text x="63.20" y="233.00" font-size="11" font-weight="normal" font-style="normal" text-anchor="start" fill="#111" stroke="#111" stroke-width="0.3" textLength="45.0" lengthAdjust="spacingAndGlyphs" >Wild Type</text>
<text x="63.20" y="246.90" font-size="11" font-weight="normal" font-style="italic" text-anchor="start" fill="#111" stroke="#111" stroke-width="0.3" textLength="24.5" lengthAdjust="spacingAndGlyphs" >Noxa</text>
<text x="88.20" y="241.90" font-size="7" font-weight="normal" font-style="italic" text-anchor="start" fill="#111" >-/-</text>
<text x="274.30" y="206.00" font-size="11" font-weight="bold" font-style="normal" text-anchor="middle" fill="#111" >IgG1</text>
<line x1="203.80" y1="218.80" x2="345.00" y2="218.80" stroke="#a0a0a0" stroke-width="1.3" />
<line x1="345.00" y1="218.80" x2="345.00" y2="336.60" stroke="#a0a0a0" stroke-width="1.0" />
<line x1="203.80" y1="218.80" x2="203.80" y2="336.60" stroke="#8a8a8a" stroke-width="1.1" />
<line x1="203.80" y1="336.60" x2="345.00" y2="336.60" stroke="#8a8a8a" stroke-width="1.1" />
<line x1="201.60" y1="336.60" x2="203.80" y2="336.60" stroke="#888" stroke-width="0.8" />
<text x="200.60" y="339.10" font-size="7.2" font-weight="bold" font-style="normal" text-anchor="end" fill="#111" stroke="#111" stroke-width="0.25" textLength="9.0" lengthAdjust="spacingAndGlyphs" >0.0</text>
<line x1="201.60" y1="315.58" x2="203.80" y2="315.58" stroke="#888" stroke-width="0.8" />
<text x="200.60" y="318.08" font-size="7.2" font-weight="bold" font-style="normal" text-anchor="end" fill="#111" stroke="#111" stroke-width="0.25" textLength="9.0" lengthAdjust="spacingAndGlyphs" >0.5</text>
<line x1="201.60" y1="294.56" x2="203.80" y2="294.56" stroke="#888" stroke-width="0.8" />
<text x="200.60" y="297.06" font-size="7.2" font-weight="bold" font-style="normal" text-anchor="end" fill="#111" stroke="#111" stroke-width="0.25" textLength="9.0" lengthAdjust="spacingAndGlyphs" >1.0</text>
<line x1="201.60" y1="273.54" x2="203.80" y2="273.54" stroke="#888" stroke-width="0.8" />
<text x="200.60" y="276.04" font-size="7.2" font-weight="bold" font-style="normal" text-anchor="end" fill="#111" stroke="#111" stroke-width="0.25" textLength="9.0" lengthAdjust="spacingAndGlyphs" >1.5</text>
<line x1="201.60" y1="252.52" x2="203.80" y2="252.52" stroke="#888" stroke-width="0.8" />
<text x="200.60" y="255.02" font-size="7.2" font-weight="bold" font-style="normal" text-anchor="end" fill="#111" stroke="#111" stroke-width="0.25" textLength="9.0" lengthAdjust="spacingAndGlyphs" >2.0</text>
<line x1="201.60" y1="231.50" x2="203.80" y2="231.50" stroke="#888" stroke-width="0.8" />
<text x="200.60" y="234.00" font-size="7.2" font-weight="bold" font-style="normal" text-anchor="end" fill="#111" stroke="#111" stroke-width="0.25" textLength="9.0" lengthAdjust="spacingAndGlyphs" >2.5</text>
<line x1="231.50" y1="336.60" x2="231.50" y2="338.40" stroke="#888" stroke-width="0.8" />
<text x="232.70" y="346.70" font-size="7.4" font-weight="bold" font-style="normal" text-anchor="end" fill="#222" stroke="#222" stroke-width="0.2" >10</text>
<text x="234.20" y="343.70" font-size="4.6" font-weight="bold" font-style="normal" text-anchor="start" fill="#555" >-2</text>
<line x1="283.50" y1="336.60" x2="283.50" y2="338.40" stroke="#888" stroke-width="0.8" />
<text x="284.70" y="346.70" font-size="7.4" font-weight="bold" font-style="normal" text-anchor="end" fill="#222" stroke="#222" stroke-width="0.2" >10</text>
<text x="286.20" y="343.70" font-size="4.6" font-weight="bold" font-style="normal" text-anchor="start" fill="#555" >-1</text>
<line x1="335.50" y1="336.60" x2="335.50" y2="338.40" stroke="#888" stroke-width="0.8" />
<text x="336.70" y="346.70" font-size="7.4" font-weight="bold" font-style="normal" text-anchor="end" fill="#222" stroke="#222" stroke-width="0.2" >10</text>
<text x="338.20" y="343.70" font-size="4.6" font-weight="bold" font-style="normal" text-anchor="start" fill="#555" >0</text>
<path d="M211.50,329.03 L236.30,318.94 L261.10,305.07 L285.90,282.37 L310.70,255.04 L335.50,238.65" fill="none" stroke="#a0a0a0" stroke-width="0.9" />
<path d="M211.50,331.56 L236.30,326.93 L261.10,318.10 L285.90,310.11 L310.70,303.81 L335.50,295.82" fill="none" stroke="#a0a0a0" stroke-width="0.9" />
<line x1="236.30" y1="314.32" x2="236.30" y2="323.99" stroke="#111" stroke-width="1.4" />
<line x1="233.70" y1="314.32" x2="238.90" y2="314.32" stroke="#111" stroke-width="1.4" />
<line x1="233.70" y1="323.99" x2="238.90" y2="323.99" stroke="#111" stroke-width="1.4" />
<line x1="261.10" y1="297.08" x2="261.10" y2="313.48" stroke="#111" stroke-width="1.4" />
<line x1="258.50" y1="297.08" x2="263.70" y2="297.08" stroke="#111" stroke-width="1.4" />
<line x1="258.50" y1="313.48" x2="263.70" y2="313.48" stroke="#111" stroke-width="1.4" />
<line x1="285.90" y1="269.34" x2="285.90" y2="295.40" stroke="#111" stroke-width="1.4" />
<line x1="283.30" y1="269.34" x2="288.50" y2="269.34" stroke="#111" stroke-width="1.4" />
<line x1="283.30" y1="295.40" x2="288.50" y2="295.40" stroke="#111" stroke-width="1.4" />
<line x1="310.70" y1="241.59" x2="310.70" y2="268.07" stroke="#111" stroke-width="1.4" />
<line x1="308.10" y1="241.59" x2="313.30" y2="241.59" stroke="#111" stroke-width="1.4" />
<line x1="308.10" y1="268.07" x2="313.30" y2="268.07" stroke="#111" stroke-width="1.4" />
<line x1="335.50" y1="232.34" x2="335.50" y2="244.95" stroke="#111" stroke-width="1.4" />
<line x1="332.90" y1="232.34" x2="338.10" y2="232.34" stroke="#111" stroke-width="1.4" />
<line x1="332.90" y1="244.95" x2="338.10" y2="244.95" stroke="#111" stroke-width="1.4" />
<line x1="236.30" y1="322.73" x2="236.30" y2="330.71" stroke="#111" stroke-width="1.4" />
<line x1="233.70" y1="322.73" x2="238.90" y2="322.73" stroke="#111" stroke-width="1.4" />
<line x1="233.70" y1="330.71" x2="238.90" y2="330.71" stroke="#111" stroke-width="1.4" />
<line x1="261.10" y1="310.54" x2="261.10" y2="326.51" stroke="#111" stroke-width="1.4" />
<line x1="258.50" y1="310.54" x2="263.70" y2="310.54" stroke="#111" stroke-width="1.4" />
<line x1="258.50" y1="326.51" x2="263.70" y2="326.51" stroke="#111" stroke-width="1.4" />
<line x1="285.90" y1="297.92" x2="285.90" y2="321.47" stroke="#111" stroke-width="1.4" />
<line x1="283.30" y1="297.92" x2="288.50" y2="297.92" stroke="#111" stroke-width="1.4" />
<line x1="283.30" y1="321.47" x2="288.50" y2="321.47" stroke="#111" stroke-width="1.4" />
<line x1="310.70" y1="292.88" x2="310.70" y2="313.90" stroke="#111" stroke-width="1.4" />
<line x1="308.10" y1="292.88" x2="313.30" y2="292.88" stroke="#111" stroke-width="1.4" />
<line x1="308.10" y1="313.90" x2="313.30" y2="313.90" stroke="#111" stroke-width="1.4" />
<line x1="335.50" y1="285.31" x2="335.50" y2="305.91" stroke="#111" stroke-width="1.4" />
<line x1="332.90" y1="285.31" x2="338.10" y2="285.31" stroke="#111" stroke-width="1.4" />
<line x1="332.90" y1="305.91" x2="338.10" y2="305.91" stroke="#111" stroke-width="1.4" />
<rect x="209.10" y="329.16" width="4.80" height="4.80" fill="#fff" stroke="#111" stroke-width="1.1" />
<rect x="233.90" y="324.53" width="4.80" height="4.80" fill="#fff" stroke="#111" stroke-width="1.1" />
<rect x="258.70" y="315.70" width="4.80" height="4.80" fill="#fff" stroke="#111" stroke-width="1.1" />
<rect x="283.50" y="307.71" width="4.80" height="4.80" fill="#fff" stroke="#111" stroke-width="1.1" />
<rect x="308.30" y="301.41" width="4.80" height="4.80" fill="#fff" stroke="#111" stroke-width="1.1" />
<rect x="333.10" y="293.42" width="4.80" height="4.80" fill="#fff" stroke="#111" stroke-width="1.1" />
<circle cx="211.50" cy="329.03" r="2.60" fill="#111" stroke="none" stroke-width="1.0"/>
<circle cx="236.30" cy="318.94" r="2.60" fill="#111" stroke="none" stroke-width="1.0"/>
<circle cx="261.10" cy="305.07" r="2.60" fill="#111" stroke="none" stroke-width="1.0"/>
<circle cx="285.90" cy="282.37" r="2.60" fill="#111" stroke="none" stroke-width="1.0"/>
<circle cx="310.70" cy="255.04" r="2.60" fill="#111" stroke="none" stroke-width="1.0"/>
<circle cx="335.50" cy="238.65" r="2.60" fill="#111" stroke="none" stroke-width="1.0"/>
<line x1="211.40" y1="229.30" x2="220.40" y2="229.30" stroke="#aaa" stroke-width="0.8" />
<circle cx="215.90" cy="229.30" r="2.40" fill="#111" stroke="none" stroke-width="1.0"/>
<line x1="211.40" y1="242.90" x2="220.40" y2="242.90" stroke="#aaa" stroke-width="0.8" />
<rect x="213.50" y="240.50" width="4.80" height="4.80" fill="#fff" stroke="#111" stroke-width="1.0" />
<text x="226.80" y="232.50" font-size="11" font-weight="normal" font-style="normal" text-anchor="start" fill="#111" stroke="#111" stroke-width="0.3" textLength="45.0" lengthAdjust="spacingAndGlyphs" >Wild Type</text>
<text x="226.80" y="245.50" font-size="11" font-weight="normal" font-style="italic" text-anchor="start" fill="#111" stroke="#111" stroke-width="0.3" textLength="24.5" lengthAdjust="spacingAndGlyphs" >Noxa</text>
<text x="251.80" y="240.50" font-size="7" font-weight="normal" font-style="italic" text-anchor="start" fill="#111" >-/-</text>
<text x="311.10" y="239.30" font-size="10.5" font-weight="bold" font-style="normal" text-anchor="middle" fill="#111" >*</text>
<text x="335.50" y="230.40" font-size="10.5" font-weight="bold" font-style="normal" text-anchor="middle" fill="#111" >**</text>
<text x="436.20" y="206.00" font-size="11" font-weight="bold" font-style="normal" text-anchor="middle" fill="#111" >IgG2b</text>
<line x1="366.50" y1="218.80" x2="507.70" y2="218.80" stroke="#a0a0a0" stroke-width="1.3" />
<line x1="507.70" y1="218.80" x2="507.70" y2="336.60" stroke="#a0a0a0" stroke-width="1.0" />
<line x1="366.50" y1="218.80" x2="366.50" y2="336.60" stroke="#8a8a8a" stroke-width="1.1" />
<line x1="366.50" y1="336.60" x2="507.70" y2="336.60" stroke="#8a8a8a" stroke-width="1.1" />
<line x1="364.30" y1="336.60" x2="366.50" y2="336.60" stroke="#888" stroke-width="0.8" />
<text x="363.30" y="339.10" font-size="7.2" font-weight="bold" font-style="normal" text-anchor="end" fill="#111" stroke="#111" stroke-width="0.25" textLength="9.0" lengthAdjust="spacingAndGlyphs" >0.0</text>
<line x1="364.30" y1="315.58" x2="366.50" y2="315.58" stroke="#888" stroke-width="0.8" />
<text x="363.30" y="318.08" font-size="7.2" font-weight="bold" font-style="normal" text-anchor="end" fill="#111" stroke="#111" stroke-width="0.25" textLength="9.0" lengthAdjust="spacingAndGlyphs" >0.5</text>
<line x1="364.30" y1="294.56" x2="366.50" y2="294.56" stroke="#888" stroke-width="0.8" />
<text x="363.30" y="297.06" font-size="7.2" font-weight="bold" font-style="normal" text-anchor="end" fill="#111" stroke="#111" stroke-width="0.25" textLength="9.0" lengthAdjust="spacingAndGlyphs" >1.0</text>
<line x1="364.30" y1="273.54" x2="366.50" y2="273.54" stroke="#888" stroke-width="0.8" />
<text x="363.30" y="276.04" font-size="7.2" font-weight="bold" font-style="normal" text-anchor="end" fill="#111" stroke="#111" stroke-width="0.25" textLength="9.0" lengthAdjust="spacingAndGlyphs" >1.5</text>
<line x1="364.30" y1="252.52" x2="366.50" y2="252.52" stroke="#888" stroke-width="0.8" />
<text x="363.30" y="255.02" font-size="7.2" font-weight="bold" font-style="normal" text-anchor="end" fill="#111" stroke="#111" stroke-width="0.25" textLength="9.0" lengthAdjust="spacingAndGlyphs" >2.0</text>
<line x1="364.30" y1="231.50" x2="366.50" y2="231.50" stroke="#888" stroke-width="0.8" />
<text x="363.30" y="234.00" font-size="7.2" font-weight="bold" font-style="normal" text-anchor="end" fill="#111" stroke="#111" stroke-width="0.25" textLength="9.0" lengthAdjust="spacingAndGlyphs" >2.5</text>
<line x1="394.20" y1="336.60" x2="394.20" y2="338.40" stroke="#888" stroke-width="0.8" />
<text x="395.40" y="346.70" font-size="7.4" font-weight="bold" font-style="normal" text-anchor="end" fill="#222" stroke="#222" stroke-width="0.2" >10</text>
<text x="396.90" y="343.70" font-size="4.6" font-weight="bold" font-style="normal" text-anchor="start" fill="#555" >-2</text>
<line x1="446.20" y1="336.60" x2="446.20" y2="338.40" stroke="#888" stroke-width="0.8" />
<text x="447.40" y="346.70" font-size="7.4" font-weight="bold" font-style="normal" text-anchor="end" fill="#222" stroke="#222" stroke-width="0.2" >10</text>
<text x="448.90" y="343.70" font-size="4.6" font-weight="bold" font-style="normal" text-anchor="start" fill="#555" >-1</text>
<line x1="498.20" y1="336.60" x2="498.20" y2="338.40" stroke="#888" stroke-width="0.8" />
<text x="499.40" y="346.70" font-size="7.4" font-weight="bold" font-style="normal" text-anchor="end" fill="#222" stroke="#222" stroke-width="0.2" >10</text>
<text x="500.90" y="343.70" font-size="4.6" font-weight="bold" font-style="normal" text-anchor="start" fill="#555" >0</text>
<path d="M374.20,325.67 L399.00,311.80 L423.80,283.21 L448.60,254.20 L473.40,247.90 L498.20,241.59" fill="none" stroke="#a0a0a0" stroke-width="0.9" />
<path d="M374.20,331.13 L399.00,324.41 L423.80,308.43 L448.60,298.34 L473.40,293.30 L498.20,286.15" fill="none" stroke="#a0a0a0" stroke-width="0.9" />
<line x1="374.20" y1="323.99" x2="374.20" y2="327.35" stroke="#111" stroke-width="1.4" />
<line x1="371.60" y1="323.99" x2="376.80" y2="323.99" stroke="#111" stroke-width="1.4" />
<line x1="371.60" y1="327.35" x2="376.80" y2="327.35" stroke="#111" stroke-width="1.4" />
<line x1="399.00" y1="305.07" x2="399.00" y2="318.94" stroke="#111" stroke-width="1.4" />
<line x1="396.40" y1="305.07" x2="401.60" y2="305.07" stroke="#111" stroke-width="1.4" />
<line x1="396.40" y1="318.94" x2="401.60" y2="318.94" stroke="#111" stroke-width="1.4" />
<line x1="423.80" y1="269.76" x2="423.80" y2="295.82" stroke="#111" stroke-width="1.4" />
<line x1="421.20" y1="269.76" x2="426.40" y2="269.76" stroke="#111" stroke-width="1.4" />
<line x1="421.20" y1="295.82" x2="426.40" y2="295.82" stroke="#111" stroke-width="1.4" />
<line x1="448.60" y1="232.76" x2="448.60" y2="274.80" stroke="#111" stroke-width="1.4" />
<line x1="446.00" y1="232.76" x2="451.20" y2="232.76" stroke="#111" stroke-width="1.4" />
<line x1="446.00" y1="274.80" x2="451.20" y2="274.80" stroke="#111" stroke-width="1.4" />
<line x1="473.40" y1="229.82" x2="473.40" y2="265.97" stroke="#111" stroke-width="1.4" />
<line x1="470.80" y1="229.82" x2="476.00" y2="229.82" stroke="#111" stroke-width="1.4" />
<line x1="470.80" y1="265.97" x2="476.00" y2="265.97" stroke="#111" stroke-width="1.4" />
<line x1="498.20" y1="222.25" x2="498.20" y2="260.93" stroke="#111" stroke-width="1.4" />
<line x1="495.60" y1="222.25" x2="500.80" y2="222.25" stroke="#111" stroke-width="1.4" />
<line x1="495.60" y1="260.93" x2="500.80" y2="260.93" stroke="#111" stroke-width="1.4" />
<line x1="374.20" y1="328.19" x2="374.20" y2="332.40" stroke="#111" stroke-width="1.4" />
<line x1="371.60" y1="328.19" x2="376.80" y2="328.19" stroke="#111" stroke-width="1.4" />
<line x1="371.60" y1="332.40" x2="376.80" y2="332.40" stroke="#111" stroke-width="1.4" />
<line x1="399.00" y1="318.52" x2="399.00" y2="329.45" stroke="#111" stroke-width="1.4" />
<line x1="396.40" y1="318.52" x2="401.60" y2="318.52" stroke="#111" stroke-width="1.4" />
<line x1="396.40" y1="329.45" x2="401.60" y2="329.45" stroke="#111" stroke-width="1.4" />
<line x1="423.80" y1="294.56" x2="423.80" y2="322.31" stroke="#111" stroke-width="1.4" />
<line x1="421.20" y1="294.56" x2="426.40" y2="294.56" stroke="#111" stroke-width="1.4" />
<line x1="421.20" y1="322.31" x2="426.40" y2="322.31" stroke="#111" stroke-width="1.4" />
<line x1="448.60" y1="280.69" x2="448.60" y2="315.58" stroke="#111" stroke-width="1.4" />
<line x1="446.00" y1="280.69" x2="451.20" y2="280.69" stroke="#111" stroke-width="1.4" />
<line x1="446.00" y1="315.58" x2="451.20" y2="315.58" stroke="#111" stroke-width="1.4" />
<line x1="473.40" y1="275.22" x2="473.40" y2="310.54" stroke="#111" stroke-width="1.4" />
<line x1="470.80" y1="275.22" x2="476.00" y2="275.22" stroke="#111" stroke-width="1.4" />
<line x1="470.80" y1="310.54" x2="476.00" y2="310.54" stroke="#111" stroke-width="1.4" />
<line x1="498.20" y1="269.34" x2="498.20" y2="302.97" stroke="#111" stroke-width="1.4" />
<line x1="495.60" y1="269.34" x2="500.80" y2="269.34" stroke="#111" stroke-width="1.4" />
<line x1="495.60" y1="302.97" x2="500.80" y2="302.97" stroke="#111" stroke-width="1.4" />
<rect x="371.80" y="328.73" width="4.80" height="4.80" fill="#fff" stroke="#111" stroke-width="1.1" />
<rect x="396.60" y="322.01" width="4.80" height="4.80" fill="#fff" stroke="#111" stroke-width="1.1" />
<rect x="421.40" y="306.03" width="4.80" height="4.80" fill="#fff" stroke="#111" stroke-width="1.1" />
<rect x="446.20" y="295.94" width="4.80" height="4.80" fill="#fff" stroke="#111" stroke-width="1.1" />
<rect x="471.00" y="290.90" width="4.80" height="4.80" fill="#fff" stroke="#111" stroke-width="1.1" />
<rect x="495.80" y="283.75" width="4.80" height="4.80" fill="#fff" stroke="#111" stroke-width="1.1" />
<circle cx="374.20" cy="325.67" r="2.60" fill="#111" stroke="none" stroke-width="1.0"/>
<circle cx="399.00" cy="311.80" r="2.60" fill="#111" stroke="none" stroke-width="1.0"/>
<circle cx="423.80" cy="283.21" r="2.60" fill="#111" stroke="none" stroke-width="1.0"/>
<circle cx="448.60" cy="254.20" r="2.60" fill="#111" stroke="none" stroke-width="1.0"/>
<circle cx="473.40" cy="247.90" r="2.60" fill="#111" stroke="none" stroke-width="1.0"/>
<circle cx="498.20" cy="241.59" r="2.60" fill="#111" stroke="none" stroke-width="1.0"/>
<line x1="372.40" y1="229.30" x2="381.40" y2="229.30" stroke="#aaa" stroke-width="0.8" />
<circle cx="376.90" cy="229.30" r="2.40" fill="#111" stroke="none" stroke-width="1.0"/>
<line x1="372.40" y1="243.10" x2="381.40" y2="243.10" stroke="#aaa" stroke-width="0.8" />
<rect x="374.50" y="240.70" width="4.80" height="4.80" fill="#fff" stroke="#111" stroke-width="1.0" />
<text x="388.00" y="232.50" font-size="11" font-weight="normal" font-style="normal" text-anchor="start" fill="#111" stroke="#111" stroke-width="0.3" textLength="45.0" lengthAdjust="spacingAndGlyphs" >Wild Type</text>
<text x="388.00" y="245.80" font-size="11" font-weight="normal" font-style="italic" text-anchor="start" fill="#111" stroke="#111" stroke-width="0.3" textLength="24.5" lengthAdjust="spacingAndGlyphs" >Noxa</text>
<text x="413.00" y="240.80" font-size="7" font-weight="normal" font-style="italic" text-anchor="start" fill="#111" >-/-</text>
<text x="96.40" y="390.60" font-size="10.2" font-weight="bold" font-style="normal" text-anchor="middle" fill="#111" textLength="87.4" lengthAdjust="spacingAndGlyphs" >TNP-specific IgG1</text>
<text x="97.50" y="402.70" font-size="10.2" font-weight="bold" font-style="normal" text-anchor="middle" fill="#111" textLength="105.8" lengthAdjust="spacingAndGlyphs" >Dissocation constant</text>
<line x1="35.60" y1="410.90" x2="159.60" y2="410.90" stroke="#808080" stroke-width="1.4" />
<line x1="159.60" y1="410.90" x2="159.60" y2="519.80" stroke="#666" stroke-width="1.0" />
<line x1="35.60" y1="410.90" x2="35.60" y2="519.80" stroke="#6a6a6a" stroke-width="1.2" />
<line x1="35.60" y1="519.80" x2="159.60" y2="519.80" stroke="#6a6a6a" stroke-width="1.2" />
<line x1="33.40" y1="410.90" x2="35.60" y2="410.90" stroke="#333" stroke-width="0.9" />
<text x="32.00" y="414.10" font-size="9" font-weight="bold" font-style="normal" text-anchor="end" fill="#111" textLength="7" lengthAdjust="spacingAndGlyphs" >-4</text>
<line x1="33.40" y1="442.01" x2="35.60" y2="442.01" stroke="#333" stroke-width="0.9" />
<text x="32.00" y="445.21" font-size="9" font-weight="bold" font-style="normal" text-anchor="end" fill="#111" textLength="7" lengthAdjust="spacingAndGlyphs" >-6</text>
<line x1="33.40" y1="473.13" x2="35.60" y2="473.13" stroke="#333" stroke-width="0.9" />
<text x="32.00" y="476.33" font-size="9" font-weight="bold" font-style="normal" text-anchor="end" fill="#111" textLength="7" lengthAdjust="spacingAndGlyphs" >-8</text>
<line x1="33.40" y1="504.24" x2="35.60" y2="504.24" stroke="#333" stroke-width="0.9" />
<text x="32.00" y="507.44" font-size="9" font-weight="bold" font-style="normal" text-anchor="end" fill="#111" textLength="11.4" lengthAdjust="spacingAndGlyphs" >-10</text>
<line x1="66.50" y1="519.80" x2="66.50" y2="521.80" stroke="#333" stroke-width="0.9" />
<line x1="128.80" y1="519.80" x2="128.80" y2="521.80" stroke="#333" stroke-width="0.9" />
<text x="14.3" y="492.2" font-size="11.5" font-weight="bold" fill="#111" transform="rotate(-90 14.3 492.2)" textLength="54.5" lengthAdjust="spacingAndGlyphs">K<tspan font-size="7.5" dy="2.5">D</tspan><tspan dy="-2.5"> (Log10)</tspan></text>
<line x1="64.30" y1="423.30" x2="130.00" y2="423.30" stroke="#333" stroke-width="1.0" />
<text x="97.00" y="423.80" font-size="13" font-weight="bold" font-style="normal" text-anchor="middle" fill="#111" >**</text>
<line x1="46.10" y1="495.10" x2="87.60" y2="495.10" stroke="#111" stroke-width="1.4" />
<line x1="107.50" y1="449.10" x2="149.90" y2="449.10" stroke="#111" stroke-width="1.4" />
<circle cx="59.40" cy="491.80" r="2.40" fill="#111" stroke="none" stroke-width="1.0"/>
<circle cx="66.50" cy="493.00" r="2.40" fill="#111" stroke="none" stroke-width="1.0"/>
<circle cx="73.40" cy="495.70" r="2.40" fill="#111" stroke="none" stroke-width="1.0"/>
<circle cx="66.50" cy="499.50" r="2.40" fill="#111" stroke="none" stroke-width="1.0"/>
<rect x="126.50" y="433.20" width="4.60" height="4.60" fill="#111" stroke="none" stroke-width="1.0" />
<rect x="126.50" y="445.00" width="4.60" height="4.60" fill="#111" stroke="none" stroke-width="1.0" />
<rect x="126.50" y="461.70" width="4.60" height="4.60" fill="#111" stroke="none" stroke-width="1.0" />
<text x="66.60" y="533.20" font-size="10.8" font-weight="bold" font-style="normal" text-anchor="middle" fill="#111" textLength="49" lengthAdjust="spacingAndGlyphs" >Wild Type</text>
<text x="111.90" y="533.20" font-size="10.8" font-weight="bold" font-style="italic" text-anchor="start" fill="#111" textLength="25.5" lengthAdjust="spacingAndGlyphs" >Noxa</text>
<text x="137.80" y="528.20" font-size="7" font-weight="bold" font-style="italic" text-anchor="start" fill="#111" >-/-</text>
<text x="273.00" y="391.40" font-size="11" font-weight="bold" font-style="normal" text-anchor="middle" fill="#111" >IgM</text>
<line x1="208.30" y1="396.10" x2="344.00" y2="396.10" stroke="#a0a0a0" stroke-width="1.3" />
<line x1="344.00" y1="396.10" x2="344.00" y2="512.10" stroke="#a0a0a0" stroke-width="1.0" />
<line x1="208.30" y1="396.10" x2="208.30" y2="512.10" stroke="#8a8a8a" stroke-width="1.1" />
<line x1="208.30" y1="512.10" x2="344.00" y2="512.10" stroke="#8a8a8a" stroke-width="1.1" />
<line x1="206.10" y1="512.10" x2="208.30" y2="512.10" stroke="#888" stroke-width="0.8" />
<text x="204.90" y="514.50" font-size="7.0" font-weight="bold" font-style="normal" text-anchor="end" fill="#111" stroke="#111" stroke-width="0.25" textLength="8.6" lengthAdjust="spacingAndGlyphs" >0.0</text>
<line x1="206.10" y1="473.43" x2="208.30" y2="473.43" stroke="#888" stroke-width="0.8" />
<text x="204.90" y="475.83" font-size="7.0" font-weight="bold" font-style="normal" text-anchor="end" fill="#111" stroke="#111" stroke-width="0.25" textLength="8.6" lengthAdjust="spacingAndGlyphs" >0.5</text>
<line x1="206.10" y1="434.77" x2="208.30" y2="434.77" stroke="#888" stroke-width="0.8" />
<text x="204.90" y="437.17" font-size="7.0" font-weight="bold" font-style="normal" text-anchor="end" fill="#111" stroke="#111" stroke-width="0.25" textLength="8.6" lengthAdjust="spacingAndGlyphs" >1.0</text>
<line x1="206.10" y1="396.10" x2="208.30" y2="396.10" stroke="#888" stroke-width="0.8" />
<text x="204.90" y="398.50" font-size="7.0" font-weight="bold" font-style="normal" text-anchor="end" fill="#111" stroke="#111" stroke-width="0.25" textLength="8.6" lengthAdjust="spacingAndGlyphs" >1.5</text>
<line x1="234.20" y1="512.10" x2="234.20" y2="513.90" stroke="#888" stroke-width="0.8" />
<text x="236.20" y="521.70" font-size="6.6" font-weight="bold" font-style="normal" text-anchor="end" fill="#222" stroke="#222" stroke-width="0.2" >10</text>
<text x="237.70" y="518.70" font-size="4.6" font-weight="bold" font-style="normal" text-anchor="start" fill="#555" >-2</text>
<line x1="285.00" y1="512.10" x2="285.00" y2="513.90" stroke="#888" stroke-width="0.8" />
<text x="287.00" y="521.70" font-size="6.6" font-weight="bold" font-style="normal" text-anchor="end" fill="#222" stroke="#222" stroke-width="0.2" >10</text>
<text x="288.50" y="518.70" font-size="4.6" font-weight="bold" font-style="normal" text-anchor="start" fill="#555" >-1</text>
<line x1="335.80" y1="512.10" x2="335.80" y2="513.90" stroke="#888" stroke-width="0.8" />
<text x="337.80" y="521.70" font-size="6.6" font-weight="bold" font-style="normal" text-anchor="end" fill="#222" stroke="#222" stroke-width="0.2" >10</text>
<text x="339.30" y="518.70" font-size="4.6" font-weight="bold" font-style="normal" text-anchor="start" fill="#555" >0</text>
<text x="191.30" y="470.00" font-size="10.5" font-weight="bold" font-style="normal" text-anchor="start" fill="#111" textLength="31.5" lengthAdjust="spacingAndGlyphs" transform="rotate(-90 191.30 470.00)" >OD415</text>
<text x="221.40" y="535.20" font-size="12.2" font-weight="bold" font-style="normal" text-anchor="start" fill="#111" textLength="108.9" lengthAdjust="spacingAndGlyphs" >Virus Concentration (%)</text>
<path d="M214.40,498.95 L238.50,498.18 L262.60,492.77 L286.70,481.94 L310.80,454.87 L334.90,420.07" fill="none" stroke="#aaa" stroke-width="0.9" />
<path d="M214.40,501.27 L238.50,499.73 L262.60,496.63 L286.70,485.03 L310.80,458.74 L334.90,410.79" fill="none" stroke="#999" stroke-width="0.9" />
<line x1="310.80" y1="450.23" x2="310.80" y2="457.97" stroke="#333" stroke-width="1.3" />
<line x1="308.20" y1="450.23" x2="313.40" y2="450.23" stroke="#333" stroke-width="1.3" />
<line x1="308.20" y1="457.97" x2="313.40" y2="457.97" stroke="#333" stroke-width="1.3" />
<line x1="334.90" y1="415.43" x2="334.90" y2="424.71" stroke="#333" stroke-width="1.3" />
<line x1="332.30" y1="415.43" x2="337.50" y2="415.43" stroke="#333" stroke-width="1.3" />
<line x1="332.30" y1="424.71" x2="337.50" y2="424.71" stroke="#333" stroke-width="1.3" />
<line x1="310.80" y1="454.87" x2="310.80" y2="462.61" stroke="#111" stroke-width="1.4" />
<line x1="308.20" y1="454.87" x2="313.40" y2="454.87" stroke="#111" stroke-width="1.4" />
<line x1="308.20" y1="462.61" x2="313.40" y2="462.61" stroke="#111" stroke-width="1.4" />
<line x1="334.90" y1="403.83" x2="334.90" y2="415.43" stroke="#111" stroke-width="1.4" />
<line x1="332.30" y1="403.83" x2="337.50" y2="403.83" stroke="#111" stroke-width="1.4" />
<line x1="332.30" y1="415.43" x2="337.50" y2="415.43" stroke="#111" stroke-width="1.4" />
<rect x="211.90" y="496.45" width="5.00" height="5.00" fill="#fff" stroke="#999" stroke-width="0.9" />
<rect x="236.00" y="495.68" width="5.00" height="5.00" fill="#fff" stroke="#999" stroke-width="0.9" />
<rect x="260.10" y="490.27" width="5.00" height="5.00" fill="#fff" stroke="#999" stroke-width="0.9" />
<rect x="284.20" y="479.44" width="5.00" height="5.00" fill="#fff" stroke="#999" stroke-width="0.9" />
<rect x="308.30" y="452.37" width="5.00" height="5.00" fill="#fff" stroke="#999" stroke-width="0.9" />
<rect x="332.40" y="417.57" width="5.00" height="5.00" fill="#fff" stroke="#999" stroke-width="0.9" />
<circle cx="214.40" cy="501.27" r="2.40" fill="#111" stroke="none" stroke-width="1.0"/>
<circle cx="238.50" cy="499.73" r="2.40" fill="#111" stroke="none" stroke-width="1.0"/>
<circle cx="262.60" cy="496.63" r="2.40" fill="#111" stroke="none" stroke-width="1.0"/>
<circle cx="286.70" cy="485.03" r="2.40" fill="#111" stroke="none" stroke-width="1.0"/>
<circle cx="310.80" cy="458.74" r="2.40" fill="#111" stroke="none" stroke-width="1.0"/>
<circle cx="334.90" cy="410.79" r="2.40" fill="#111" stroke="none" stroke-width="1.0"/>
<path d="M334.90,495.04 L337.20,499.48 L332.60,499.48 Z" fill="#111" stroke="none" stroke-width="1.0" />
<line x1="213.60" y1="407.10" x2="223.60" y2="407.10" stroke="#aaa" stroke-width="0.8" />
<circle cx="218.40" cy="407.10" r="2.40" fill="#111" stroke="none" stroke-width="1.0"/>
<rect x="215.90" y="418.40" width="5.00" height="5.00" fill="#fff" stroke="#999" stroke-width="0.9" />
<line x1="213.40" y1="420.90" x2="223.40" y2="420.90" stroke="#999" stroke-width="0.8" />
<path d="M218.70,432.23 L221.00,436.67 L216.40,436.67 Z" fill="#111" stroke="none" stroke-width="1.0" />
<text x="228.90" y="409.70" font-size="9.9" font-weight="normal" font-style="normal" text-anchor="start" fill="#1a1a1a" stroke="#1a1a1a" stroke-width="0.12" textLength="43.8" lengthAdjust="spacingAndGlyphs" >Wild Type</text>
<text x="228.90" y="423.50" font-size="9.9" font-weight="normal" font-style="italic" text-anchor="start" fill="#1a1a1a" stroke="#1a1a1a" stroke-width="0.12" textLength="23.214" lengthAdjust="spacingAndGlyphs" >Noxa</text>
<text x="252.71" y="418.90" font-size="6.336" font-weight="normal" font-style="italic" text-anchor="start" fill="#111" >-/-</text>
<text x="228.90" y="436.90" font-size="9.9" font-weight="normal" font-style="normal" text-anchor="start" fill="#1a1a1a" stroke="#1a1a1a" stroke-width="0.12" textLength="84.8" lengthAdjust="spacingAndGlyphs" >Pre-Immune Serum</text>
<text x="443.00" y="391.40" font-size="11" font-weight="bold" font-style="normal" text-anchor="middle" fill="#111" >IgG1</text>
<line x1="374.40" y1="396.50" x2="510.90" y2="396.50" stroke="#a0a0a0" stroke-width="1.3" />
<line x1="510.90" y1="396.50" x2="510.90" y2="511.80" stroke="#a0a0a0" stroke-width="1.0" />
<line x1="374.40" y1="396.50" x2="374.40" y2="511.80" stroke="#8a8a8a" stroke-width="1.1" />
<line x1="374.40" y1="511.80" x2="510.90" y2="511.80" stroke="#8a8a8a" stroke-width="1.1" />
<line x1="372.20" y1="511.80" x2="374.40" y2="511.80" stroke="#888" stroke-width="0.8" />
<text x="371.00" y="514.20" font-size="7.0" font-weight="bold" font-style="normal" text-anchor="end" fill="#111" stroke="#111" stroke-width="0.25" textLength="8.6" lengthAdjust="spacingAndGlyphs" >0.0</text>
<line x1="372.20" y1="473.37" x2="374.40" y2="473.37" stroke="#888" stroke-width="0.8" />
<text x="371.00" y="475.77" font-size="7.0" font-weight="bold" font-style="normal" text-anchor="end" fill="#111" stroke="#111" stroke-width="0.25" textLength="8.6" lengthAdjust="spacingAndGlyphs" >0.5</text>
<line x1="372.20" y1="434.93" x2="374.40" y2="434.93" stroke="#888" stroke-width="0.8" />
<text x="371.00" y="437.33" font-size="7.0" font-weight="bold" font-style="normal" text-anchor="end" fill="#111" stroke="#111" stroke-width="0.25" textLength="8.6" lengthAdjust="spacingAndGlyphs" >1.0</text>
<line x1="372.20" y1="396.50" x2="374.40" y2="396.50" stroke="#888" stroke-width="0.8" />
<text x="371.00" y="398.90" font-size="7.0" font-weight="bold" font-style="normal" text-anchor="end" fill="#111" stroke="#111" stroke-width="0.25" textLength="8.6" lengthAdjust="spacingAndGlyphs" >1.5</text>
<line x1="398.50" y1="511.80" x2="398.50" y2="513.60" stroke="#888" stroke-width="0.8" />
<text x="400.50" y="521.40" font-size="6.6" font-weight="bold" font-style="normal" text-anchor="end" fill="#222" stroke="#222" stroke-width="0.2" >10</text>
<text x="402.00" y="518.40" font-size="4.6" font-weight="bold" font-style="normal" text-anchor="start" fill="#555" >-3</text>
<line x1="434.20" y1="511.80" x2="434.20" y2="513.60" stroke="#888" stroke-width="0.8" />
<text x="436.20" y="521.40" font-size="6.6" font-weight="bold" font-style="normal" text-anchor="end" fill="#222" stroke="#222" stroke-width="0.2" >10</text>
<text x="437.70" y="518.40" font-size="4.6" font-weight="bold" font-style="normal" text-anchor="start" fill="#555" >-2</text>
<line x1="469.90" y1="511.80" x2="469.90" y2="513.60" stroke="#888" stroke-width="0.8" />
<text x="471.90" y="521.40" font-size="6.6" font-weight="bold" font-style="normal" text-anchor="end" fill="#222" stroke="#222" stroke-width="0.2" >10</text>
<text x="473.40" y="518.40" font-size="4.6" font-weight="bold" font-style="normal" text-anchor="start" fill="#555" >-1</text>
<line x1="504.60" y1="511.80" x2="504.60" y2="513.60" stroke="#888" stroke-width="0.8" />
<text x="506.60" y="521.40" font-size="6.6" font-weight="bold" font-style="normal" text-anchor="end" fill="#222" stroke="#222" stroke-width="0.2" >10</text>
<text x="508.10" y="518.40" font-size="4.6" font-weight="bold" font-style="normal" text-anchor="start" fill="#555" >0</text>
<text x="357.40" y="470.00" font-size="10.5" font-weight="bold" font-style="normal" text-anchor="start" fill="#111" textLength="31.5" lengthAdjust="spacingAndGlyphs" transform="rotate(-90 357.40 470.00)" >OD415</text>
<text x="393.80" y="536.00" font-size="12.2" font-weight="bold" font-style="normal" text-anchor="start" fill="#111" textLength="104.3" lengthAdjust="spacingAndGlyphs" >Virus Concentration (%)</text>
<path d="M381.60,503.34 L406.20,502.58 L430.80,501.04 L455.40,497.20 L480.00,468.75 L504.60,446.46" fill="none" stroke="#aaa" stroke-width="0.9" />
<path d="M381.60,504.27 L406.20,502.58 L430.80,500.27 L455.40,491.81 L480.00,446.46 L504.60,417.25" fill="none" stroke="#999" stroke-width="0.9" />
<line x1="455.40" y1="494.12" x2="455.40" y2="501.04" stroke="#333" stroke-width="1.3" />
<line x1="452.80" y1="494.12" x2="458.00" y2="494.12" stroke="#333" stroke-width="1.3" />
<line x1="452.80" y1="501.04" x2="458.00" y2="501.04" stroke="#333" stroke-width="1.3" />
<line x1="480.00" y1="465.68" x2="480.00" y2="473.37" stroke="#333" stroke-width="1.3" />
<line x1="477.40" y1="465.68" x2="482.60" y2="465.68" stroke="#333" stroke-width="1.3" />
<line x1="477.40" y1="473.37" x2="482.60" y2="473.37" stroke="#333" stroke-width="1.3" />
<line x1="504.60" y1="441.08" x2="504.60" y2="451.84" stroke="#333" stroke-width="1.3" />
<line x1="502.00" y1="441.08" x2="507.20" y2="441.08" stroke="#333" stroke-width="1.3" />
<line x1="502.00" y1="451.84" x2="507.20" y2="451.84" stroke="#333" stroke-width="1.3" />
<line x1="406.20" y1="501.04" x2="406.20" y2="504.11" stroke="#111" stroke-width="1.4" />
<line x1="403.60" y1="501.04" x2="408.80" y2="501.04" stroke="#111" stroke-width="1.4" />
<line x1="403.60" y1="504.11" x2="408.80" y2="504.11" stroke="#111" stroke-width="1.4" />
<line x1="430.80" y1="496.43" x2="430.80" y2="504.11" stroke="#111" stroke-width="1.4" />
<line x1="428.20" y1="496.43" x2="433.40" y2="496.43" stroke="#111" stroke-width="1.4" />
<line x1="428.20" y1="504.11" x2="433.40" y2="504.11" stroke="#111" stroke-width="1.4" />
<line x1="455.40" y1="486.43" x2="455.40" y2="496.43" stroke="#111" stroke-width="1.4" />
<line x1="452.80" y1="486.43" x2="458.00" y2="486.43" stroke="#111" stroke-width="1.4" />
<line x1="452.80" y1="496.43" x2="458.00" y2="496.43" stroke="#111" stroke-width="1.4" />
<line x1="480.00" y1="439.55" x2="480.00" y2="453.38" stroke="#111" stroke-width="1.4" />
<line x1="477.40" y1="439.55" x2="482.60" y2="439.55" stroke="#111" stroke-width="1.4" />
<line x1="477.40" y1="453.38" x2="482.60" y2="453.38" stroke="#111" stroke-width="1.4" />
<line x1="504.60" y1="410.34" x2="504.60" y2="424.94" stroke="#111" stroke-width="1.4" />
<line x1="502.00" y1="410.34" x2="507.20" y2="410.34" stroke="#111" stroke-width="1.4" />
<line x1="502.00" y1="424.94" x2="507.20" y2="424.94" stroke="#111" stroke-width="1.4" />
<circle cx="381.60" cy="503.34" r="2.60" fill="#fff" stroke="#999" stroke-width="0.9"/>
<circle cx="406.20" cy="502.58" r="2.60" fill="#fff" stroke="#999" stroke-width="0.9"/>
<circle cx="430.80" cy="501.04" r="2.60" fill="#fff" stroke="#999" stroke-width="0.9"/>
<circle cx="455.40" cy="497.20" r="2.60" fill="#fff" stroke="#999" stroke-width="0.9"/>
<circle cx="480.00" cy="468.75" r="2.60" fill="#fff" stroke="#999" stroke-width="0.9"/>
<circle cx="504.60" cy="446.46" r="2.60" fill="#fff" stroke="#999" stroke-width="0.9"/>
<circle cx="381.60" cy="504.27" r="2.40" fill="#111" stroke="none" stroke-width="1.0"/>
<circle cx="406.20" cy="502.58" r="2.40" fill="#111" stroke="none" stroke-width="1.0"/>
<circle cx="430.80" cy="500.27" r="2.40" fill="#111" stroke="none" stroke-width="1.0"/>
<circle cx="455.40" cy="491.81" r="2.40" fill="#111" stroke="none" stroke-width="1.0"/>
<circle cx="480.00" cy="446.46" r="2.40" fill="#111" stroke="none" stroke-width="1.0"/>
<circle cx="504.60" cy="417.25" r="2.40" fill="#111" stroke="none" stroke-width="1.0"/>
<path d="M504.60,490.21 L506.90,494.65 L502.30,494.65 Z" fill="#111" stroke="none" stroke-width="1.0" />
<line x1="378.90" y1="406.90" x2="388.90" y2="406.90" stroke="#aaa" stroke-width="0.8" />
<circle cx="383.70" cy="406.90" r="2.40" fill="#111" stroke="none" stroke-width="1.0"/>
<circle cx="383.70" cy="420.50" r="2.60" fill="#fff" stroke="#999" stroke-width="0.9"/>
<line x1="378.70" y1="420.50" x2="388.70" y2="420.50" stroke="#999" stroke-width="0.8" />
<path d="M384.00,430.53 L386.30,434.97 L381.70,434.97 Z" fill="#111" stroke="none" stroke-width="1.0" />
<text x="393.70" y="409.50" font-size="9.4" font-weight="normal" font-style="normal" text-anchor="start" fill="#1a1a1a" stroke="#1a1a1a" stroke-width="0.12" textLength="42.1" lengthAdjust="spacingAndGlyphs" >Wild Type</text>
<text x="393.70" y="423.10" font-size="9.4" font-weight="normal" font-style="italic" text-anchor="start" fill="#1a1a1a" stroke="#1a1a1a" stroke-width="0.12" textLength="22.313000000000002" lengthAdjust="spacingAndGlyphs" >Noxa</text>
<text x="416.61" y="418.50" font-size="6.016" font-weight="normal" font-style="italic" text-anchor="start" fill="#111" >-/-</text>
<text x="393.70" y="435.20" font-size="9.4" font-weight="normal" font-style="normal" text-anchor="start" fill="#1a1a1a" stroke="#1a1a1a" stroke-width="0.12" textLength="80.1" lengthAdjust="spacingAndGlyphs" >Pre-Immune Serum</text>
<text x="479.80" y="435.20" font-size="11" font-weight="bold" font-style="normal" text-anchor="middle" fill="#111" >*</text>
<text x="504.80" y="408.50" font-size="11" font-weight="bold" font-style="normal" text-anchor="middle" fill="#111" >*</text>
</svg>
</body></html>
